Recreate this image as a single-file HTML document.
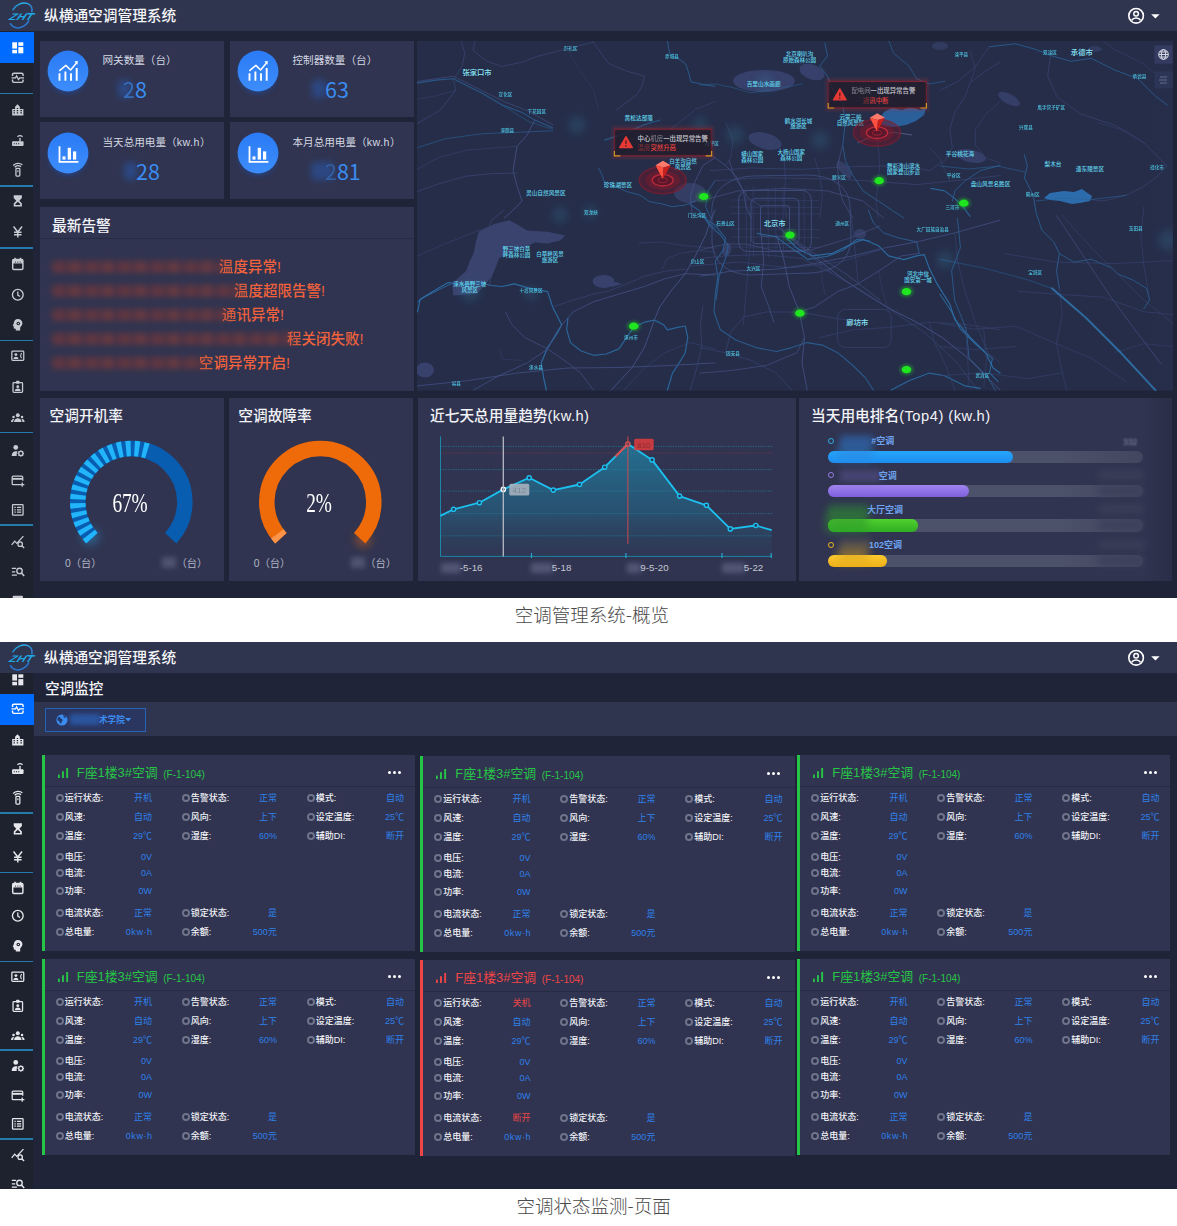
<!DOCTYPE html><html lang="zh-CN"><head><meta charset="utf-8"><title>空调管理系统</title><style>
*{margin:0;padding:0;box-sizing:border-box}
html,body{width:1177px;height:1226px;overflow:hidden;background:#fff}
body{position:relative;font-family:"Liberation Sans","Noto Sans CJK SC",sans-serif;color:#fff;font-size:10px;line-height:1}
.abs{position:absolute}
.dash{position:absolute;left:0;width:1177px;background:#1f2439;overflow:hidden}
.hdr{position:absolute;left:0;top:0;width:1177px;height:31px;background:#2f344f}
.hdr .ttl{position:absolute;left:44px;top:0;height:31px;line-height:32px;font-size:14.7px;color:#f4f5f8;font-weight:500;white-space:nowrap}
.side{position:absolute;left:0;top:31px;width:33.300px;bottom:0;background:#1e222e}
.side .act{position:absolute;left:0;width:34px;height:31px;background:#006cff}
.side .sep{position:absolute;left:0;width:32.500px;height:1.400px;background:#2579ab;margin-top:-.900px}
.side svg{position:absolute;left:10.600px;width:13.600px;height:13.600px;overflow:visible}
.card{position:absolute;background:#303450}
.cap{position:absolute;left:0;width:1177px;text-align:center;font-size:18.500px;font-weight:300;color:#4a4a4a;white-space:nowrap;font-family:"Noto Sans CJK SC","Liberation Sans",sans-serif}
.t{position:absolute;white-space:nowrap}
.blur{position:absolute;filter:blur(3px)}

.mc{position:absolute;background:#303450;height:196px}
.mc .bar{position:absolute;left:0;top:0;width:3px;height:100%}
.mc .sepl{position:absolute;left:3px;right:0;top:30.500px;height:1px;background:#262b43}
.mc .tt{position:absolute;left:35.300px;top:9px;font-size:12.900px;line-height:17px;white-space:nowrap}
.mc .tt i{font-style:normal;font-size:10px;margin-left:5.500px;position:relative;top:1px}
.mc .sig{position:absolute;left:16.200px;top:12.500px;width:11px;height:10px}
.mc .dots{position:absolute;left:346.500px;top:16.300px;width:14px;height:3px}
.mc .dots b{position:absolute;top:0;width:3px;height:3px;border-radius:50%;background:#fff}
.r{position:absolute;height:12px;line-height:12px;font-size:9px;white-space:nowrap}
.r .bu{display:block;position:absolute;left:-1.200px;top:2px;width:8px;height:8px;border-radius:50%;border:2px solid #6f748b;background:#2b2f49}
.r .lb{position:absolute;left:8px;top:0;color:#f2f3f7;font-weight:500}
.r .v{position:absolute;right:0;top:0;color:#2f80ea;text-align:right}
.r .v.red{color:#ee4546}
</style></head><body><div class="dash" style="top:0;height:598px"><div class="side"><div class="act" style="top:0.5px"></div><div class="sep" style="top:62.7px"></div><div class="sep" style="top:155.0px"></div><div class="sep" style="top:217.0px"></div><div class="sep" style="top:309.5px"></div><div class="sep" style="top:401.7px"></div><div class="sep" style="top:494.0px"></div><svg viewBox="0 0 16 16" style="top:9.5px;color:#ffffff"><rect x="1.5" y="1.5" width="5.6" height="7.4" fill="currentColor"/><rect x="8.6" y="1.5" width="5.9" height="4.2" fill="currentColor"/><rect x="1.5" y="10.4" width="5.6" height="4.1" fill="currentColor"/><rect x="8.6" y="7.2" width="5.9" height="7.3" fill="currentColor"/></svg><svg viewBox="0 0 16 16" style="top:39.9px;color:#c9cbd3"><path d="M1.800 6V4.200c0-1 .6-1.600 1.600-1.600h9.200c1 0 1.600.6 1.600 1.600V6M1.800 10v1.800c0 1 .6 1.600 1.600 1.600h9.200c1 0 1.600-.6 1.600-1.600V10" fill="none" stroke="currentColor" stroke-width="1.700"/><path d="M0.600 8.200h4.600l1.400-2.400 2.200 4.400 1.500-2h5.100" fill="none" stroke="currentColor" stroke-width="1.500"/></svg><svg viewBox="0 0 16 16" style="top:72.2px;color:#c9cbd3"><path d="M1.400 14.600V7h3.400V4.400L7.600 1.400l2.800 3v2.600h4.200v7.600z" fill="currentColor"/><path d="M3 9h1.600M3 11.600h1.600M6.800 6.400h1.600M6.800 9h1.600M6.800 11.600h1.600M11 9h1.800M11 11.600h1.800" stroke="#1e222e" stroke-width="1.300"/></svg><svg viewBox="0 0 16 16" style="top:102.7px;color:#c9cbd3"><rect x="1.200" y="8.600" width="13.600" height="5.600" rx="1.200" fill="currentColor"/><rect x="9.800" y="4.600" width="1.600" height="5" fill="currentColor"/><path d="M7.600 3.200c1.800-1.700 4.200-1.700 6 0" fill="none" stroke="currentColor" stroke-width="1.400"/><path d="M3.200 11.400h1.300M5.800 11.400h1.300M8.400 11.400h1.300" stroke="#1e222e" stroke-width="1.300"/></svg><svg viewBox="0 0 16 16" style="top:131.8px;color:#c9cbd3"><rect x="5.800" y="6.400" width="4.600" height="9" rx="1" fill="none" stroke="currentColor" stroke-width="1.500"/><path d="M8.100 8.600v2.400" stroke="currentColor" stroke-width="1.300"/><path d="M4.400 5a5.200 5.200 0 0 1 7.400-.6M2.600 3a8 8 0 0 1 10.800-.8" fill="none" stroke="currentColor" stroke-width="1.500"/></svg><svg viewBox="0 0 16 16" style="top:163.2px;color:#c9cbd3"><path d="M3.200 1.400h9.600v3.400L9.800 8l3 3.200v3.400H3.200v-3.400l3-3.200-3-3.200z" fill="currentColor"/><path d="M5.200 13v-1.200L8 9.200l2.800 2.600V13z" fill="#1e222e"/></svg><svg viewBox="0 0 16 16" style="top:193.8px;color:#c9cbd3"><path d="M3 1.8l5 6.4 5-6.4M8 8.2v6.4M3.6 8.6h8.8M3.6 11.4h8.8" fill="none" stroke="currentColor" stroke-width="1.7"/></svg><svg viewBox="0 0 16 16" style="top:226.2px;color:#c9cbd3"><rect x="2" y="3" width="12" height="11.600" rx="1.400" fill="none" stroke="currentColor" stroke-width="1.700"/><rect x="2" y="3" width="12" height="4.600" fill="currentColor"/><path d="M4.800 1v3M11.200 1v3" stroke="currentColor" stroke-width="1.700"/><path d="M4.600 6h1.200M7.400 6h1.200M10.200 6h1.200" stroke="#1e222e" stroke-width="1.100"/></svg><svg viewBox="0 0 16 16" style="top:257.2px;color:#c9cbd3"><circle cx="8" cy="8" r="6.3" fill="none" stroke="currentColor" stroke-width="1.6"/><path d="M8 4.2V8.3l2.7 1.7" fill="none" stroke="currentColor" stroke-width="1.5"/></svg><svg viewBox="0 0 16 16" style="top:287.0px;color:#c9cbd3"><path d="M8 1.2c3.2 0 5.4 2.2 5.4 5 0 1.6-.8 2.8-1.8 3.8-.6.6-.8 1.2-.8 2.2v2.6H5.6v-2.2H4.2c-.8 0-1-.4-1-1V9.800L2 9.200l1.200-2.600c.2-3.200 2-5.400 4.800-5.400z" fill="currentColor"/><circle cx="8.600" cy="6.400" r="2.100" fill="#1e222e"/><circle cx="8.600" cy="6.400" r="0.900" fill="currentColor"/></svg><svg viewBox="0 0 16 16" style="top:318.2px;color:#c9cbd3"><rect x="1" y="2.600" width="14" height="10.800" rx="1" fill="none" stroke="currentColor" stroke-width="1.500"/><circle cx="5.800" cy="6.600" r="1.700" fill="currentColor"/><path d="M2.800 11.800c.2-2 1.400-2.800 3-2.800s2.800.8 3 2.800z" fill="currentColor"/><path d="M12.600 4.800c-1.600 1.600-1.600 4.400 0 6" fill="none" stroke="currentColor" stroke-width="1.300"/></svg><svg viewBox="0 0 16 16" style="top:348.9px;color:#c9cbd3"><rect x="2.400" y="3" width="11.200" height="11.600" rx="1" fill="none" stroke="currentColor" stroke-width="1.500"/><rect x="6" y="1" width="4" height="3.400" rx=".8" fill="currentColor"/><circle cx="8" cy="7.800" r="1.700" fill="currentColor"/><path d="M4.600 12.800c.2-2 1.600-2.800 3.400-2.800s3.200.8 3.400 2.800z" fill="currentColor"/></svg><svg viewBox="0 0 16 16" style="top:379.8px;color:#c9cbd3"><circle cx="8" cy="5" r="2.300" fill="currentColor"/><path d="M3.600 12.800c.2-3 2-4.400 4.400-4.400s4.200 1.400 4.400 4.400z" fill="currentColor"/><circle cx="3" cy="7" r="1.500" fill="currentColor"/><circle cx="13" cy="7" r="1.500" fill="currentColor"/><path d="M0 12.800c.1-2.200 1.200-3.400 3-3.400.2 0 .5 0 .8.100-.8.900-1.200 2-1.300 3.300zM16 12.800c-.1-2.200-1.200-3.400-3-3.400-.2 0-.5 0-.8.100.8.900 1.200 2 1.300 3.300z" fill="currentColor"/></svg><svg viewBox="0 0 16 16" style="top:412.6px;color:#c9cbd3"><circle cx="5.600" cy="4" r="2.800" fill="currentColor"/><path d="M0.800 14c.2-3.600 2-5.400 4.800-5.400.8 0 1.600.2 2.200.5-.8 1-1.200 2.200-1.200 3.400 0 .5.100 1 .2 1.500z" fill="currentColor"/><circle cx="11.600" cy="11.200" r="2.500" fill="none" stroke="currentColor" stroke-width="1.500"/><path d="M11.600 7.400v1.400M11.600 13.600V15M7.800 11.200h1.400M14 11.200h1.400M8.900 8.500l1 1M13.300 12.900l1 1M14.300 8.500l-1 1M9.900 12.900l-1 1" stroke="currentColor" stroke-width="1.200"/></svg><svg viewBox="0 0 16 16" style="top:443.0px;color:#c9cbd3"><path d="M11 12.600H2.600c-.8 0-1.200-.4-1.200-1.200V3.800c0-.8.400-1.200 1.200-1.200h10c.8 0 1.200.4 1.200 1.200V8" fill="none" stroke="currentColor" stroke-width="1.500"/><rect x="1.400" y="4.600" width="12.400" height="2.200" fill="currentColor"/><path d="M13.200 10v5M10.700 12.500h5" stroke="currentColor" stroke-width="1.500"/></svg><svg viewBox="0 0 16 16" style="top:472.1px;color:#c9cbd3"><rect x="1.800" y="1.800" width="12.400" height="12.400" rx=".8" fill="none" stroke="currentColor" stroke-width="1.500"/><path d="M4 5.200h1.600M7 5.200h5M4 8h1.600M7 8h5M4 10.800h1.600M7 10.800h5" stroke="currentColor" stroke-width="1.400"/></svg><svg viewBox="0 0 16 16" style="top:503.7px;color:#c9cbd3"><path d="M0.800 11.600l3.600-4.400 2.400 2.600L14.600 1.400" fill="none" stroke="currentColor" stroke-width="1.500"/><circle cx="10.800" cy="10.800" r="2.600" fill="none" stroke="currentColor" stroke-width="1.500"/><path d="M12.700 12.700l2.700 2.700" stroke="currentColor" stroke-width="1.700"/></svg><svg viewBox="0 0 16 16" style="top:534.0px;color:#c9cbd3"><path d="M1 4h5M1 8h4M1 12h6" stroke="currentColor" stroke-width="1.500"/><circle cx="10" cy="7" r="3.200" fill="none" stroke="currentColor" stroke-width="1.600"/><path d="M12.300 9.300l3.200 3.600" stroke="currentColor" stroke-width="1.800"/></svg><svg viewBox="0 0 16 16" style="top:563.2px;color:#c9cbd3"><rect x="2" y="2" width="12" height="3" rx="1" fill="currentColor"/></svg></div><div class="card" style="left:40px;top:41px;width:184px;height:76px">
<svg class="abs" style="left:2.4000000000000057px;top:3.9000000000000057px;width:52px;height:56px;overflow:visible" viewBox="-26 -26 52 56">
<defs><linearGradient id="gc4041" x1="0" y1="0" x2="0" y2="1"><stop offset="0" stop-color="#2a7bf5"/><stop offset="1" stop-color="#3d8dfb"/></linearGradient>
<filter id="sh4041" x="-40%" y="-40%" width="180%" height="190%"><feGaussianBlur stdDeviation="2.600"/></filter></defs>
<ellipse cx="0" cy="4" rx="19" ry="19" fill="#1b4fae" opacity=".5" filter="url(#sh4041)"/>
<circle cx="0" cy="0" r="20.400" fill="url(#gc4041)"/><path d="M-8.500 9.800V2.300M-2.600 9.800V0.400M3 9.800V2.300M8.700 9.800V-2.900" stroke="#fff" stroke-width="1.900" fill="none"/><path d="M-8.700 -0.200L-2.100 -5.600L2.600 -1L8.700 -8.200" stroke="#fff" stroke-width="1.500" fill="none" stroke-linejoin="round"/><path d="M6.300 -9.400l3.600 -.6l-.5 3.700z" fill="#fff"/></svg>
<div class="t" style="left:62.500px;top:14.1px;font-size:10.600px;color:#d5d8e2">网关数量（台）</div>
<div class="blur" style="left:78px;top:39px;width:13px;height:18px;background:#2b4f96;opacity:.75;border-radius:4px;filter:blur(3.500px)"></div>
<div class="t" style="left:83px;top:35px;font-size:21.500px;font-weight:400;color:#3a8cf0;font-family:'Noto Sans CJK SC','Liberation Sans',sans-serif;line-height:26px"><span style="opacity:0.62;filter:blur(.700px)">2</span>8</div>
</div><div class="card" style="left:230px;top:41px;width:184px;height:76px">
<svg class="abs" style="left:2.3999999999999773px;top:3.9000000000000057px;width:52px;height:56px;overflow:visible" viewBox="-26 -26 52 56">
<defs><linearGradient id="gc23041" x1="0" y1="0" x2="0" y2="1"><stop offset="0" stop-color="#2a7bf5"/><stop offset="1" stop-color="#3d8dfb"/></linearGradient>
<filter id="sh23041" x="-40%" y="-40%" width="180%" height="190%"><feGaussianBlur stdDeviation="2.600"/></filter></defs>
<ellipse cx="0" cy="4" rx="19" ry="19" fill="#1b4fae" opacity=".5" filter="url(#sh23041)"/>
<circle cx="0" cy="0" r="20.400" fill="url(#gc23041)"/><path d="M-8.500 9.800V2.300M-2.600 9.800V0.400M3 9.800V2.300M8.700 9.800V-2.900" stroke="#fff" stroke-width="1.900" fill="none"/><path d="M-8.700 -0.200L-2.100 -5.600L2.600 -1L8.700 -8.200" stroke="#fff" stroke-width="1.500" fill="none" stroke-linejoin="round"/><path d="M6.300 -9.400l3.600 -.6l-.5 3.700z" fill="#fff"/></svg>
<div class="t" style="left:62.500px;top:14.1px;font-size:10.600px;color:#d5d8e2">控制器数量（台）</div>
<div class="blur" style="left:82px;top:39px;width:14px;height:18px;background:#2b4f96;opacity:.75;border-radius:4px;filter:blur(3.500px)"></div>
<div class="t" style="left:95px;top:35px;font-size:21.500px;font-weight:400;color:#3a8cf0;font-family:'Noto Sans CJK SC','Liberation Sans',sans-serif;line-height:26px">63</div>
</div><div class="card" style="left:40px;top:122.3px;width:184px;height:76.7px">
<svg class="abs" style="left:2.4000000000000057px;top:4.299999999999997px;width:52px;height:56px;overflow:visible" viewBox="-26 -26 52 56">
<defs><linearGradient id="gc40122" x1="0" y1="0" x2="0" y2="1"><stop offset="0" stop-color="#2a7bf5"/><stop offset="1" stop-color="#3d8dfb"/></linearGradient>
<filter id="sh40122" x="-40%" y="-40%" width="180%" height="190%"><feGaussianBlur stdDeviation="2.600"/></filter></defs>
<ellipse cx="0" cy="4" rx="19" ry="19" fill="#1b4fae" opacity=".5" filter="url(#sh40122)"/>
<circle cx="0" cy="0" r="20.400" fill="url(#gc40122)"/><path d="M-8.500 -6.800V8.900H10.400" stroke="#fff" stroke-width="1.800" fill="none"/><rect x="-5.500" y="3.400" width="3" height="3.200" fill="#fff"/><rect x="-0.300" y="-5.200" width="3.300" height="11.800" fill="#fff"/><rect x="5" y="-1.600" width="3.200" height="8.200" fill="#fff"/></svg>
<div class="t" style="left:62.500px;top:14.9px;font-size:10.600px;color:#d5d8e2">当天总用电量（<span style="letter-spacing:.550px">kw.h</span>）</div>
<div class="blur" style="left:84px;top:39.4px;width:13px;height:18px;background:#2b4f96;opacity:.75;border-radius:4px;filter:blur(3.500px)"></div>
<div class="t" style="left:96px;top:35.4px;font-size:21.500px;font-weight:400;color:#3a8cf0;font-family:'Noto Sans CJK SC','Liberation Sans',sans-serif;line-height:26px">28</div>
</div><div class="card" style="left:230px;top:122.3px;width:184px;height:76.7px">
<svg class="abs" style="left:2.3999999999999773px;top:4.299999999999997px;width:52px;height:56px;overflow:visible" viewBox="-26 -26 52 56">
<defs><linearGradient id="gc230122" x1="0" y1="0" x2="0" y2="1"><stop offset="0" stop-color="#2a7bf5"/><stop offset="1" stop-color="#3d8dfb"/></linearGradient>
<filter id="sh230122" x="-40%" y="-40%" width="180%" height="190%"><feGaussianBlur stdDeviation="2.600"/></filter></defs>
<ellipse cx="0" cy="4" rx="19" ry="19" fill="#1b4fae" opacity=".5" filter="url(#sh230122)"/>
<circle cx="0" cy="0" r="20.400" fill="url(#gc230122)"/><path d="M-8.500 -6.800V8.900H10.400" stroke="#fff" stroke-width="1.800" fill="none"/><rect x="-5.500" y="3.400" width="3" height="3.200" fill="#fff"/><rect x="-0.300" y="-5.200" width="3.300" height="11.800" fill="#fff"/><rect x="5" y="-1.600" width="3.200" height="8.200" fill="#fff"/></svg>
<div class="t" style="left:62.500px;top:14.9px;font-size:10.600px;color:#d5d8e2">本月总用电量（<span style="letter-spacing:.550px">kw.h</span>）</div>
<div class="blur" style="left:81px;top:39.4px;width:22px;height:18px;background:#2b4f96;opacity:.75;border-radius:4px;filter:blur(3.500px)"></div>
<div class="t" style="left:95px;top:35.4px;font-size:21.500px;font-weight:400;color:#3a8cf0;font-family:'Noto Sans CJK SC','Liberation Sans',sans-serif;line-height:26px"><span style="opacity:0.42;filter:blur(.700px)">2</span>81</div>
</div><div class="card" style="left:40px;top:207px;width:374px;height:183.500px"><div class="abs" style="left:0;top:31px;width:374px;height:1px;background:#262b44"></div><div class="t" style="left:12px;top:10.500px;font-size:14.700px;color:#f2f3f7;font-weight:500;line-height:17px">最新告警</div><div class="abs" style="left:12px;top:53.5px;width:173px;height:12px;background:repeating-linear-gradient(90deg,#74383c 0 13px,#55323f 13px 17px,#7a3c3c 17px 29px,#4a2f44 29px 33px);opacity:.72;filter:blur(3px);border-radius:3px"></div><div class="t" style="left:179px;top:50.5px;font-size:14.500px;line-height:19px;color:#f1623c;font-weight:500"><span style="filter:blur(.600px);opacity:.85">温</span>度异常!</div><div class="abs" style="left:12px;top:77.5px;width:188px;height:12px;background:repeating-linear-gradient(90deg,#74383c 0 13px,#55323f 13px 17px,#7a3c3c 17px 29px,#4a2f44 29px 33px);opacity:.72;filter:blur(3px);border-radius:3px"></div><div class="t" style="left:194px;top:74.5px;font-size:14.500px;line-height:19px;color:#f1623c;font-weight:500"><span style="filter:blur(.600px);opacity:.85">温</span>度超限告警!</div><div class="abs" style="left:12px;top:101.9px;width:176px;height:12px;background:repeating-linear-gradient(90deg,#74383c 0 13px,#55323f 13px 17px,#7a3c3c 17px 29px,#4a2f44 29px 33px);opacity:.72;filter:blur(3px);border-radius:3px"></div><div class="t" style="left:182px;top:98.9px;font-size:14.500px;line-height:19px;color:#f1623c;font-weight:500"><span style="filter:blur(.600px);opacity:.85">通</span>讯异常!</div><div class="abs" style="left:12px;top:126.0px;width:241px;height:12px;background:repeating-linear-gradient(90deg,#74383c 0 13px,#55323f 13px 17px,#7a3c3c 17px 29px,#4a2f44 29px 33px);opacity:.72;filter:blur(3px);border-radius:3px"></div><div class="t" style="left:247px;top:123.0px;font-size:14.500px;line-height:19px;color:#f1623c;font-weight:500"><span style="filter:blur(.600px);opacity:.85">程</span>关闭失败!</div><div class="abs" style="left:12px;top:149.5px;width:153px;height:12px;background:repeating-linear-gradient(90deg,#74383c 0 13px,#55323f 13px 17px,#7a3c3c 17px 29px,#4a2f44 29px 33px);opacity:.72;filter:blur(3px);border-radius:3px"></div><div class="t" style="left:159px;top:146.5px;font-size:14.500px;line-height:19px;color:#f1623c;font-weight:500"><span style="filter:blur(.600px);opacity:.85">空</span>调异常开启!</div></div><svg class="abs" style="left:417px;top:41px;width:756px;height:349.500px" viewBox="417 41 756 349.500"><defs><filter id="mg" x="-100%" y="-100%" width="300%" height="300%"><feGaussianBlur stdDeviation="4"/></filter><filter id="dg" x="-100%" y="-100%" width="300%" height="300%"><feGaussianBlur stdDeviation="1.800"/></filter><filter id="pg" x="-20%" y="-40%" width="140%" height="180%"><feGaussianBlur stdDeviation="1.600"/></filter><filter id="tb" x="-20%" y="-40%" width="140%" height="180%"><feGaussianBlur stdDeviation=".7"/></filter><linearGradient id="mbg" x1="0" y1="0" x2="1" y2="0"><stop offset="0" stop-color="#252d49"/><stop offset=".97" stop-color="#252d49"/><stop offset="1" stop-color="#272e4b"/></linearGradient></defs><rect x="417" y="41" width="756" height="349.500" fill="url(#mbg)"/><path d="M478.7 231.7L494.0 224.0L509.3 220.2L519.5 225.8L527.2 230.4L547.6 231.7L565.4 235.5L560.3 240.6L547.6 243.6L534.8 242.6L524.6 248.2L511.9 250.8L499.1 258.4L495.3 268.6L491.5 276.8L483.8 286.5L476.2 294.1L453.2 295.4L452.0 283.9L459.6 276.8L466.0 271.2L469.8 261.0L473.6 253.3L476.2 240.6Z" fill="#3a4470" opacity="0.95"/><ellipse cx="603.600" cy="281.400" rx="11" ry="6.500" fill="#3a4470" opacity=".9"/><path d="M608 285l8 -3l6 2l-10 3z" fill="#3a4470" opacity=".9"/><ellipse cx="425" cy="370" rx="9" ry="7.500" fill="#3a4470" opacity=".9"/><ellipse cx="764" cy="81" rx="31" ry="11" fill="#3a4470" opacity=".85"/><ellipse cx="812" cy="72" rx="13" ry="7.500" fill="#3a4470" opacity=".85" transform="rotate(20 812 72)"/><ellipse cx="765" cy="141" rx="17" ry="8" fill="#3a4470" opacity=".8" transform="rotate(15 765 141)"/><ellipse cx="971" cy="156" rx="15" ry="6.500" fill="#3a4470" opacity=".8" transform="rotate(12 971 156)"/><ellipse cx="1009" cy="99" rx="12" ry="5" fill="#3a4470" opacity=".75" transform="rotate(28 1009 99)"/><ellipse cx="690" cy="193" rx="16" ry="10" fill="#3a4470" opacity=".7"/><ellipse cx="940" cy="46" rx="8" ry="4" fill="#3a4470" opacity=".6"/><ellipse cx="1095" cy="49" rx="7" ry="3" fill="#3a4470" opacity=".6"/><ellipse cx="727" cy="250" rx="4" ry="7" fill="#3a4470" opacity=".8" transform="rotate(15 727 250)"/><ellipse cx="860" cy="234" rx="6" ry="5" fill="#3a4470" opacity=".7"/><path d="M884 112l8 -4l10 2l8 -3l10 3l6 -2l-2 7l-8 6l-10 4l-12 2l-10 -1l-6 -5z" fill="#2c69a8" opacity=".85"/><path d="M1044 198l6 -5l14 -2l10 1l8 -3l4 3l6 4l-2 5l-10 2l-8 1l-12 -3l-10 -1z" fill="#2d70b2" opacity=".95"/><path d="M838 160l8 4l6 10l-2 6l-8 -6l-6 -8z" fill="#3a4470" opacity=".7"/><path d="M415.0 83.4L435.4 80.1L453.2 78.8L468.5 86.4L481.3 92.8L501.7 104.8L522.1 112.4L534.8 120.1L552.6 127.7" fill="none" stroke="#2b6296" stroke-width="1.1" opacity="0.8" stroke-linejoin="round" stroke-linecap="round" /><path d="M415.0 81.8L453.2 76.2L481.3 90.3L504.2 101.7L527.2 110.6L552.6 124.7" fill="none" stroke="#455286" stroke-width="0.8" opacity="0.8" stroke-linejoin="round" stroke-linecap="round" /><path d="M417.5 147.6L445.6 138.7L481.3 133.8L517.0 132.3L552.6 130.8" fill="none" stroke="#2b6296" stroke-width="0.9" opacity="0.7" stroke-linejoin="round" stroke-linecap="round" /><path d="M460.9 40.0L464.7 53.3L462.2 66.0L453.2 80.1" fill="none" stroke="#3a4674" stroke-width="0.8" opacity="0.9" stroke-linejoin="round" stroke-linecap="round" /><path d="M474.9 40.0L473.1 50.7L486.4 60.9L501.7 66.5L522.1 62.2L537.4 56.4L567.9 48.7L593.4 42.1" fill="none" stroke="#3a4674" stroke-width="0.8" opacity="0.9" stroke-linejoin="round" stroke-linecap="round" /><path d="M415.0 124.7L440.5 109.9L455.8 90.3L453.7 80.8" fill="none" stroke="#3a4674" stroke-width="0.8" opacity="0.9" stroke-linejoin="round" stroke-linecap="round" /><path d="M534.8 120.1L527.2 134.9L517.0 146.3L513.1 170.6L517.0 185.8L522.1 201.1L511.9 211.3L504.2 218.0" fill="none" stroke="#455286" stroke-width="0.9" opacity="0.9" stroke-linejoin="round" stroke-linecap="round" /><path d="M415.0 192.2L440.5 183.3L466.0 176.2L491.5 173.6L517.0 173.1" fill="none" stroke="#3a4674" stroke-width="0.8" opacity="0.9" stroke-linejoin="round" stroke-linecap="round" /><path d="M415.0 170.6L437.9 157.8L466.0 150.2L499.1 147.6L517.0 146.3" fill="none" stroke="#3a4674" stroke-width="0.7" opacity="0.8" stroke-linejoin="round" stroke-linecap="round" /><path d="M593.4 42.1L601.1 53.3L608.7 63.5L626.6 71.1L644.4 76.2L641.9 86.4L636.8 94.6L624.0 104.3L616.4 109.9" fill="none" stroke="#3a4674" stroke-width="0.8" opacity="0.9" stroke-linejoin="round" stroke-linecap="round" /><path d="M667.4 40.0L668.6 48.2L669.9 53.8L680.1 59.7L685.7 64.0L689.0 73.7L690.8 81.8L703.0 84.4L715.0 86.4" fill="none" stroke="#2b6296" stroke-width="1" opacity="0.85" stroke-linejoin="round" stroke-linecap="round" /><path d="M598.5 168.0L602.4 175.6L604.1 181.3L616.4 187.1L626.6 191.5L639.3 194.8L649.5 201.7L661.0 203.7L672.5 206.7L685.2 205.0L695.4 201.1" fill="none" stroke="#2b6296" stroke-width="1" opacity="0.8" stroke-linejoin="round" stroke-linecap="round" /><path d="M604.9 140.0L624.0 133.6L644.4 124.7L659.7 120.1" fill="none" stroke="#2c70a8" stroke-width="1.4" opacity="0.55" stroke-linejoin="round" stroke-linecap="round" /><path d="M501.7 104.8L517.0 114.5L529.7 122.1L547.6 127.7L552.6 128.7" fill="none" stroke="#2b6296" stroke-width="0.9" opacity="0.6" stroke-linejoin="round" stroke-linecap="round" /><path d="M715.0 101.7L695.4 109.4L680.1 122.1L669.9 129.8" fill="none" stroke="#3a4674" stroke-width="0.8" opacity="0.8" stroke-linejoin="round" stroke-linecap="round" /><path d="M715.0 157.8L703.0 165.5L695.4 180.7L690.3 196.0L692.8 218.0" fill="none" stroke="#455286" stroke-width="0.9" opacity="0.8" stroke-linejoin="round" stroke-linecap="round" /><path d="M715.0 180.7L708.1 190.9L705.6 206.2L710.7 218.0" fill="none" stroke="#2b6296" stroke-width="1" opacity="0.8" stroke-linejoin="round" stroke-linecap="round" /><path d="M567.9 48.7L578.1 68.6L593.4 89.0L598.5 109.4" fill="none" stroke="#3a4674" stroke-width="0.6" opacity="0.6" stroke-linejoin="round" stroke-linecap="round" /><path d="M417.5 99.2L437.9 95.4L455.8 90.3" fill="none" stroke="#3a4674" stroke-width="0.7" opacity="0.7" stroke-linejoin="round" stroke-linecap="round" /><path d="M417.5 312.0L420.1 299.2L432.8 291.6L448.1 282.6L466.0 284.4L478.7 282.6L491.5 285.5L501.7 286.5L514.4 283.9L527.2 287.7L547.6 291.6L552.6 306.9L557.7 317.1L561.6 324.7L557.7 332.4L547.6 347.6L541.2 362.9L543.7 378.2L546.3 390.0" fill="none" stroke="#2c70a8" stroke-width="1.2" opacity="0.9" stroke-linejoin="round" stroke-linecap="round" /><path d="M417.5 301.8L425.2 296.7L440.5 289.0L450.7 283.9" fill="none" stroke="#2c70a8" stroke-width="1" opacity="0.8" stroke-linejoin="round" stroke-linecap="round" /><path d="M567.9 318.3L566.7 329.8L570.5 342.6L580.7 350.7L593.4 355.3L606.2 354.0L618.9 348.9L626.6 337.5L633.7 327.3L644.4 322.2L654.6 320.1L663.5 324.7L667.4 329.8L677.6 327.3L685.2 326.0L687.8 337.5L685.2 352.7L677.6 365.5L672.5 373.1L667.4 390.0" fill="none" stroke="#2c70a8" stroke-width="1.2" opacity="0.85" stroke-linejoin="round" stroke-linecap="round" /><path d="M504.2 210.0L491.5 220.2L486.4 235.5L488.9 255.9L491.5 276.3L488.9 286.5" fill="none" stroke="#3a4674" stroke-width="0.8" opacity="0.9" stroke-linejoin="round" stroke-linecap="round" /><path d="M417.5 255.9L440.5 245.7L466.0 235.5L486.4 227.8" fill="none" stroke="#3a4674" stroke-width="0.7" opacity="0.8" stroke-linejoin="round" stroke-linecap="round" /><path d="M505.5 312.0L511.9 324.7L524.6 337.5L547.6 348.9L567.9 362.9L580.7 373.1L593.4 390.0" fill="none" stroke="#455286" stroke-width="0.8" opacity="0.85" stroke-linejoin="round" stroke-linecap="round" /><path d="M417.5 385.9L466.0 380.8L517.0 373.1L567.9 368.0L618.9 367.5L669.9 365.5L715.0 362.9" fill="none" stroke="#455286" stroke-width="0.9" opacity="0.85" stroke-linejoin="round" stroke-linecap="round" /><path d="M473.6 390.0L499.1 375.7L527.2 362.9L547.6 348.9L557.7 329.8L573.0 312.0L593.4 301.8L618.9 294.1L644.4 286.5L664.8 278.8L685.2 273.7L715.0 275.0" fill="none" stroke="#455286" stroke-width="0.9" opacity="0.85" stroke-linejoin="round" stroke-linecap="round" /><path d="M611.3 390.0L631.7 368.0L644.4 347.6L654.6 319.6L659.7 306.9L672.5 289.0L685.2 273.7L695.4 255.9L705.6 235.5L710.7 220.2L715.0 210.0" fill="none" stroke="#455286" stroke-width="1" opacity="0.9" stroke-linejoin="round" stroke-linecap="round" /><path d="M552.6 306.9L567.9 301.8L593.4 294.1L608.7 291.1L626.6 283.9L644.4 276.3L664.8 271.2L685.2 269.1" fill="none" stroke="#3a4674" stroke-width="0.8" opacity="0.85" stroke-linejoin="round" stroke-linecap="round" /><path d="M639.3 243.1L659.7 241.9L685.2 245.7L715.0 248.2" fill="none" stroke="#3a4674" stroke-width="0.7" opacity="0.8" stroke-linejoin="round" stroke-linecap="round" /><path d="M662.3 268.6L667.4 258.4L680.1 253.3L697.9 250.8L715.0 252.1" fill="none" stroke="#3a4674" stroke-width="0.7" opacity="0.8" stroke-linejoin="round" stroke-linecap="round" /><path d="M624.0 390.0L644.4 368.0L664.8 352.7L690.3 342.6L715.0 348.9" fill="none" stroke="#3a4674" stroke-width="0.7" opacity="0.8" stroke-linejoin="round" stroke-linecap="round" /><path d="M703.0 305.6L700.5 324.7L701.8 347.6L695.4 373.1L690.3 390.0" fill="none" stroke="#3a4674" stroke-width="0.8" opacity="0.85" stroke-linejoin="round" stroke-linecap="round" /><path d="M499.1 348.9L502.9 359.1L522.1 360.4" fill="none" stroke="#3a4674" stroke-width="0.6" opacity="0.7" stroke-linejoin="round" stroke-linecap="round" /><path d="M705.6 215.1L708.1 222.7L715.0 227.8" fill="none" stroke="#2b6296" stroke-width="1" opacity="0.8" stroke-linejoin="round" stroke-linecap="round" /><path d="M824.9 43.1L827.5 55.8L819.8 66.0L827.5 76.2L832.6 89.0L842.7 104.3L845.3 122.1L842.7 145.1L845.3 160.4L852.9 175.6L863.1 190.9L878.4 201.1L893.7 211.3L903.9 218.0" fill="none" stroke="#2b6296" stroke-width="1" opacity="0.8" stroke-linejoin="round" stroke-linecap="round" /><path d="M888.6 40.5L893.7 53.3L909.0 66.0L916.7 78.8L929.4 83.9L944.7 81.3" fill="none" stroke="#2b6296" stroke-width="0.9" opacity="0.75" stroke-linejoin="round" stroke-linecap="round" /><path d="M700.0 85.2L715.3 83.9L733.1 87.7L751.0 92.8L776.5 89.0L802.0 83.9" fill="none" stroke="#2b6296" stroke-width="0.9" opacity="0.6" stroke-linejoin="round" stroke-linecap="round" /><path d="M1000.0 62.2L985.5 71.1L970.2 82.6L965.1 96.6L954.9 111.9L949.8 129.8L952.4 147.6L944.7 160.4L929.4 170.6" fill="none" stroke="#3a4674" stroke-width="0.8" opacity="0.85" stroke-linejoin="round" stroke-linecap="round" /><path d="M970.2 50.7L975.3 68.6L970.2 82.6" fill="none" stroke="#3a4674" stroke-width="0.7" opacity="0.8" stroke-linejoin="round" stroke-linecap="round" /><path d="M930.7 188.4L944.7 190.9L954.9 198.6L962.6 206.2L970.2 216.4" fill="none" stroke="#2c70a8" stroke-width="1.1" opacity="0.8" stroke-linejoin="round" stroke-linecap="round" /><path d="M1000.0 165.5L980.4 170.6L965.1 180.7L954.9 190.9L952.4 201.1" fill="none" stroke="#2b6296" stroke-width="1" opacity="0.8" stroke-linejoin="round" stroke-linecap="round" /><path d="M875.9 134.9L878.4 147.6L879.7 165.5L878.4 180.7L875.9 201.1L878.4 218.0" fill="none" stroke="#3a4674" stroke-width="0.7" opacity="0.8" stroke-linejoin="round" stroke-linecap="round" /><path d="M858.0 142.5L873.3 136.1L893.7 132.3L911.6 134.9" fill="none" stroke="#8fa0c8" stroke-width="0.8" opacity="0.5" stroke-linejoin="round" stroke-linecap="round" /><path d="M700.0 147.6L715.3 157.8L725.5 165.5L735.7 175.6L743.3 190.9L745.9 206.2L751.0 218.0" fill="none" stroke="#455286" stroke-width="0.9" opacity="0.85" stroke-linejoin="round" stroke-linecap="round" /><path d="M710.2 170.6L751.0 168.0L802.0 169.3L852.9 166.7L903.9 165.5L929.4 170.6" fill="none" stroke="#3a4674" stroke-width="0.8" opacity="0.85" stroke-linejoin="round" stroke-linecap="round" /><path d="M715.3 180.7L763.7 177.7L814.7 178.7L865.7 180.7L916.7 184.6L954.9 180.7L1000.0 175.6" fill="none" stroke="#3a4674" stroke-width="0.8" opacity="0.85" stroke-linejoin="round" stroke-linecap="round" /><path d="M700.0 201.1L738.2 190.9L784.1 188.4L827.5 190.9L863.1 201.1L883.5 218.0" fill="none" stroke="#455286" stroke-width="0.8" opacity="0.85" stroke-linejoin="round" stroke-linecap="round" /><path d="M784.1 160.4L785.4 180.7L784.1 201.1L786.7 218.0" fill="none" stroke="#3a4674" stroke-width="0.7" opacity="0.8" stroke-linejoin="round" stroke-linecap="round" /><path d="M814.7 157.8L819.8 175.6L822.4 196.0L819.8 218.0" fill="none" stroke="#3a4674" stroke-width="0.7" opacity="0.8" stroke-linejoin="round" stroke-linecap="round" /><path d="M842.7 145.1L837.6 165.5L838.9 185.8L842.7 201.1L852.9 218.0" fill="none" stroke="#455286" stroke-width="0.8" opacity="0.85" stroke-linejoin="round" stroke-linecap="round" /><path d="M725.5 122.1L733.1 140.0L730.6 157.8L725.5 165.5" fill="none" stroke="#3a4674" stroke-width="0.7" opacity="0.8" stroke-linejoin="round" stroke-linecap="round" /><path d="M1000.0 101.7L985.5 114.5L975.3 129.8L975.3 145.1L985.5 157.8L1000.0 162.9" fill="none" stroke="#3a4674" stroke-width="0.7" opacity="0.8" stroke-linejoin="round" stroke-linecap="round" /><path d="M929.4 147.6L939.6 157.8L944.7 170.6L949.8 180.7" fill="none" stroke="#3a4674" stroke-width="0.7" opacity="0.8" stroke-linejoin="round" stroke-linecap="round" /><rect x="760.5" y="205.7" width="29.0" height="30.6" rx="2.5" fill="none" stroke="#455286" stroke-width="0.9" opacity="0.95"/><rect x="751" y="198.3" width="48" height="45.4" rx="5" fill="none" stroke="#455286" stroke-width="0.9" opacity="0.95"/><rect x="738.7" y="190.5" width="72.6" height="61.0" rx="9" fill="none" stroke="#455286" stroke-width="0.9" opacity="0.9"/><path d="M712 214c-2 -20 12 -36 40 -38l56 -1c26 1 40 12 42 30l1 34c-1 20 -14 32 -40 34l-62 2c-24 -2 -36 -14 -37 -33z" fill="none" stroke="#455286" stroke-width=".9" opacity=".85"/><path d="M746.0 187.0L746.5 257.0" fill="none" stroke="#3a4674" stroke-width="0.6" opacity="0.8" stroke-linejoin="round" stroke-linecap="round" /><path d="M753.0 187.0L753.5 257.0" fill="none" stroke="#3a4674" stroke-width="0.6" opacity="0.8" stroke-linejoin="round" stroke-linecap="round" /><path d="M768.0 187.0L768.5 257.0" fill="none" stroke="#3a4674" stroke-width="0.6" opacity="0.8" stroke-linejoin="round" stroke-linecap="round" /><path d="M775.5 187.0L776.0 257.0" fill="none" stroke="#3a4674" stroke-width="0.6" opacity="0.8" stroke-linejoin="round" stroke-linecap="round" /><path d="M783.0 187.0L783.5 257.0" fill="none" stroke="#3a4674" stroke-width="0.6" opacity="0.8" stroke-linejoin="round" stroke-linecap="round" /><path d="M804.0 187.0L804.5 257.0" fill="none" stroke="#3a4674" stroke-width="0.6" opacity="0.8" stroke-linejoin="round" stroke-linecap="round" /><path d="M731.0 200.0L819.0 200.5" fill="none" stroke="#3a4674" stroke-width="0.6" opacity="0.8" stroke-linejoin="round" stroke-linecap="round" /><path d="M731.0 207.0L819.0 207.5" fill="none" stroke="#3a4674" stroke-width="0.6" opacity="0.8" stroke-linejoin="round" stroke-linecap="round" /><path d="M731.0 213.5L819.0 214.0" fill="none" stroke="#3a4674" stroke-width="0.6" opacity="0.8" stroke-linejoin="round" stroke-linecap="round" /><path d="M731.0 229.0L819.0 229.5" fill="none" stroke="#3a4674" stroke-width="0.6" opacity="0.8" stroke-linejoin="round" stroke-linecap="round" /><path d="M731.0 237.0L819.0 237.5" fill="none" stroke="#3a4674" stroke-width="0.6" opacity="0.8" stroke-linejoin="round" stroke-linecap="round" /><path d="M731.0 247.0L819.0 247.5" fill="none" stroke="#3a4674" stroke-width="0.6" opacity="0.8" stroke-linejoin="round" stroke-linecap="round" /><path d="M757.3 233.4L775.6 236.5L787.9 245.6L797.0 251.8L807.8 259.4L827.6 256.3L842.9 250.2L856.7 239.5L870.0 241.0" fill="none" stroke="#2c70a8" stroke-width="1.1" opacity="0.8" stroke-linejoin="round" stroke-linecap="round" /><path d="M690.0 204.3L699.2 210.5L709.9 225.8L720.6 235.0L728.2 245.6L726.7 254.8L719.0 276.2L716.0 300.0" fill="none" stroke="#2b6296" stroke-width="1.2" opacity="0.8" stroke-linejoin="round" stroke-linecap="round" /><path d="M729.0 160.0L734.0 176.0L748.0 198.0L761.0 206.0" fill="none" stroke="#455286" stroke-width="0.8" opacity="0.8" stroke-linejoin="round" stroke-linecap="round" /><path d="M790.0 236.0L812.0 252.0L846.0 274.0L880.0 300.0" fill="none" stroke="#455286" stroke-width="0.8" opacity="0.8" stroke-linejoin="round" stroke-linecap="round" /><path d="M700.0 250.0L726.0 244.0L746.0 244.0L775.0 251.0L811.0 250.0L850.0 238.0L880.0 226.0" fill="none" stroke="#455286" stroke-width="0.8" opacity="0.8" stroke-linejoin="round" stroke-linecap="round" /><path d="M690.0 266.0L740.0 262.0L790.0 268.0L840.0 262.0L880.0 250.0" fill="none" stroke="#3a4674" stroke-width="0.8" opacity="0.8" stroke-linejoin="round" stroke-linecap="round" /><path d="M700.0 215.1L715.3 225.3L725.5 238.0L722.9 250.8L715.3 261.0L717.8 276.3L715.3 294.1L714.0 312.0L720.4 329.8L735.7 340.0L756.1 347.6L776.5 351.5L791.8 347.6L807.1 342.6L822.4 345.1L837.6 352.7L852.9 365.5L865.7 378.2L873.3 390.0" fill="none" stroke="#2b6296" stroke-width="1.1" opacity="0.85" stroke-linejoin="round" stroke-linecap="round" /><path d="M786.7 238.0L796.9 248.2L812.2 255.9L832.6 253.3L847.8 245.7L863.1 239.3L878.4 245.7L888.6 255.9L903.9 259.7L916.7 255.9L924.3 254.6L929.4 268.6L937.1 283.9L949.8 304.3L954.9 319.6L970.2 337.5L985.5 352.7L993.1 368.0L1000.0 373.1" fill="none" stroke="#2c70a8" stroke-width="1.2" opacity="0.9" stroke-linejoin="round" stroke-linecap="round" /><path d="M868.2 210.0L873.3 222.7L883.5 232.9L898.8 238.0L916.7 241.9L919.2 253.3" fill="none" stroke="#2b6296" stroke-width="1" opacity="0.85" stroke-linejoin="round" stroke-linecap="round" /><path d="M776.5 225.3L796.9 243.1L819.8 261.0L842.7 278.8L865.7 294.1L891.2 309.4L916.7 322.2L942.2 337.5L967.7 357.8L993.1 383.3L1000.0 390.0" fill="none" stroke="#455286" stroke-width="1" opacity="0.9" stroke-linejoin="round" stroke-linecap="round" /><path d="M781.6 230.4L807.1 253.3L832.6 273.7L863.1 291.6L893.7 312.0L924.3 332.4L954.9 360.4L977.8 390.0" fill="none" stroke="#3a4674" stroke-width="0.8" opacity="0.85" stroke-linejoin="round" stroke-linecap="round" /><path d="M761.2 235.5L763.7 261.0L761.2 286.5L768.8 306.9L773.9 322.2" fill="none" stroke="#455286" stroke-width="0.9" opacity="0.85" stroke-linejoin="round" stroke-linecap="round" /><path d="M751.0 235.5L748.4 266.1L745.9 294.1L743.3 324.7" fill="none" stroke="#3a4674" stroke-width="0.7" opacity="0.8" stroke-linejoin="round" stroke-linecap="round" /><path d="M776.5 235.5L784.1 261.0L789.2 286.5L799.4 312.0L804.5 337.5L802.0 362.9L807.1 390.0" fill="none" stroke="#455286" stroke-width="0.9" opacity="0.9" stroke-linejoin="round" stroke-linecap="round" /><path d="M700.0 258.4L725.5 255.9L761.2 254.6L802.0 258.4L832.6 273.7" fill="none" stroke="#3a4674" stroke-width="0.8" opacity="0.85" stroke-linejoin="round" stroke-linecap="round" /><path d="M700.0 276.3L730.6 271.2L776.5 269.1L814.7 263.5L852.9 255.9L883.5 248.2L916.7 241.9L954.9 232.9L1000.0 220.2" fill="none" stroke="#455286" stroke-width="0.9" opacity="0.85" stroke-linejoin="round" stroke-linecap="round" /><path d="M725.5 352.7L730.6 332.4L743.3 317.1L766.3 312.0L799.4 312.0L835.1 318.3L863.1 322.2" fill="none" stroke="#3a4674" stroke-width="0.8" opacity="0.85" stroke-linejoin="round" stroke-linecap="round" /><path d="M799.4 312.0L814.7 306.9L837.6 291.6L858.0 283.9L878.4 271.2L901.4 255.9L919.2 253.3" fill="none" stroke="#455286" stroke-width="0.9" opacity="0.85" stroke-linejoin="round" stroke-linecap="round" /><path d="M700.0 373.1L730.6 370.6L766.3 365.5L796.9 352.7L804.5 337.5" fill="none" stroke="#455286" stroke-width="0.8" opacity="0.85" stroke-linejoin="round" stroke-linecap="round" /><path d="M700.0 347.6L725.5 352.7L751.0 360.4L776.5 373.1L791.8 390.0" fill="none" stroke="#3a4674" stroke-width="0.8" opacity="0.8" stroke-linejoin="round" stroke-linecap="round" /><rect x="837.6" y="309.4" width="53.5" height="38.2" rx="8" fill="none" stroke="#3a4674" stroke-width=".8" opacity=".85"/><path d="M819.8 337.5L852.9 329.8L891.2 327.3L929.4 322.2L967.7 324.7L1000.0 329.8" fill="none" stroke="#3a4674" stroke-width="0.7" opacity="0.8" stroke-linejoin="round" stroke-linecap="round" /><path d="M891.2 390.0L909.0 380.8L929.4 373.1L944.7 375.7L965.1 385.9L980.4 388.4" fill="none" stroke="#2c70a8" stroke-width="1.1" opacity="0.85" stroke-linejoin="round" stroke-linecap="round" /><path d="M929.4 322.2L934.5 342.6L944.7 362.9L954.9 390.0" fill="none" stroke="#3a4674" stroke-width="0.7" opacity="0.8" stroke-linejoin="round" stroke-linecap="round" /><path d="M954.9 232.9L957.5 261.0L965.1 291.6L975.3 322.2L988.0 352.7L1000.0 362.9" fill="none" stroke="#3a4674" stroke-width="0.7" opacity="0.8" stroke-linejoin="round" stroke-linecap="round" /><path d="M850.4 210.0L852.9 230.4L855.5 255.9L858.0 283.9" fill="none" stroke="#3a4674" stroke-width="0.7" opacity="0.8" stroke-linejoin="round" stroke-linecap="round" /><path d="M819.8 261.0L822.4 281.4L824.9 294.1" fill="none" stroke="#3a4674" stroke-width="0.6" opacity="0.7" stroke-linejoin="round" stroke-linecap="round" /><path d="M878.4 271.2L883.5 294.1L888.6 312.0" fill="none" stroke="#3a4674" stroke-width="0.6" opacity="0.7" stroke-linejoin="round" stroke-linecap="round" /><path d="M989.5 46.7L1015.7 43.8L1036.1 49.6L1050.6 55.5L1071.0 61.3L1091.4 58.4L1114.7 70.0L1138.0 78.8L1155.5 96.2L1167.1 105.0" fill="none" stroke="#2b6296" stroke-width="1" opacity="0.8" stroke-linejoin="round" stroke-linecap="round" /><path d="M1050.6 55.5L1047.7 75.9L1056.5 96.2L1079.8 113.7L1114.7 125.3L1143.8 142.8L1161.3 160.3L1167.1 166.1L1155.5 177.8L1143.8 186.5L1126.3 195.2L1103.0 201.0L1091.4 199.6" fill="none" stroke="#3a4674" stroke-width="0.8" opacity="0.85" stroke-linejoin="round" stroke-linecap="round" /><path d="M940.0 90.4L957.5 81.7L974.9 67.1L989.5 46.7" fill="none" stroke="#3a4674" stroke-width="0.8" opacity="0.8" stroke-linejoin="round" stroke-linecap="round" /><path d="M1024.4 154.5L1027.3 166.1L1024.4 177.8L1033.2 195.2L1036.1 212.7L1041.9 230.2L1053.6 241.8L1059.4 253.5L1056.5 270.9L1059.4 288.4" fill="none" stroke="#2b6296" stroke-width="1" opacity="0.85" stroke-linejoin="round" stroke-linecap="round" /><path d="M940.0 166.1L969.1 169.0L998.2 166.1L1024.4 171.9" fill="none" stroke="#2b6296" stroke-width="0.9" opacity="0.7" stroke-linejoin="round" stroke-linecap="round" /><path d="M1059.4 253.5L1073.9 262.2L1091.4 259.3L1111.8 268.0L1117.6 273.8L1132.2 279.7L1146.7 288.4L1149.6 300.0L1143.8 308.8" fill="none" stroke="#2b6296" stroke-width="1" opacity="0.8" stroke-linejoin="round" stroke-linecap="round" /><path d="M1036.1 201.0L1062.3 198.1L1091.4 199.6L1126.3 195.2" fill="none" stroke="#2b6296" stroke-width="0.9" opacity="0.7" stroke-linejoin="round" stroke-linecap="round" /><path d="M1056.5 215.6L1073.9 241.8L1091.4 268.0L1108.9 294.2L1132.2 326.2L1161.3 364.1" fill="none" stroke="#455286" stroke-width="0.8" opacity="0.8" stroke-linejoin="round" stroke-linecap="round" /><path d="M1062.3 215.6L1091.4 247.6L1114.7 270.9L1143.8 300.0L1172.9 323.3" fill="none" stroke="#3a4674" stroke-width="0.7" opacity="0.8" stroke-linejoin="round" stroke-linecap="round" /><path d="M1004.1 253.5L1056.5 262.2L1114.7 263.6L1172.9 260.7" fill="none" stroke="#3a4674" stroke-width="0.7" opacity="0.8" stroke-linejoin="round" stroke-linecap="round" /><path d="M1059.4 288.4L1062.3 314.6L1056.5 343.7L1062.3 372.8L1068.1 395.0" fill="none" stroke="#3a4674" stroke-width="0.7" opacity="0.8" stroke-linejoin="round" stroke-linecap="round" /><path d="M1018.6 291.3L1056.5 294.2L1103.0 297.1L1143.8 311.7L1172.9 314.6" fill="none" stroke="#3a4674" stroke-width="0.7" opacity="0.8" stroke-linejoin="round" stroke-linecap="round" /><path d="M940.0 323.3L974.9 329.2L1015.7 326.2L1056.5 343.7L1091.4 358.3L1126.3 381.6" fill="none" stroke="#3a4674" stroke-width="0.7" opacity="0.8" stroke-linejoin="round" stroke-linecap="round" /><path d="M1114.7 352.4L1143.8 343.7L1172.9 346.6" fill="none" stroke="#3a4674" stroke-width="0.7" opacity="0.7" stroke-linejoin="round" stroke-linecap="round" /><path d="M1143.8 206.9L1140.9 236.0L1143.8 265.1L1149.6 300.0" fill="none" stroke="#3a4674" stroke-width="0.7" opacity="0.8" stroke-linejoin="round" stroke-linecap="round" /><path d="M957.5 218.5L960.4 247.6L951.6 270.9L954.6 300.0L966.2 329.2L969.1 358.3L986.6 375.7L998.2 395.0" fill="none" stroke="#2b6296" stroke-width="1" opacity="0.8" stroke-linejoin="round" stroke-linecap="round" /><path d="M940.0 294.2L951.6 311.7L960.4 329.2L974.9 343.7L992.4 358.3L989.5 372.8L998.2 381.6" fill="none" stroke="#2c70a8" stroke-width="1.1" opacity="0.8" stroke-linejoin="round" stroke-linecap="round" /><path d="M966.2 332.1L967.7 358.3L969.1 387.4" fill="none" stroke="#3a4674" stroke-width="0.7" opacity="0.8" stroke-linejoin="round" stroke-linecap="round" /><path d="M983.7 329.2L986.6 358.3L983.7 387.4" fill="none" stroke="#3a4674" stroke-width="0.7" opacity="0.8" stroke-linejoin="round" stroke-linecap="round" /><path d="M940.0 346.6L974.9 349.5L1015.7 346.6" fill="none" stroke="#3a4674" stroke-width="0.7" opacity="0.8" stroke-linejoin="round" stroke-linecap="round" /><path d="M940.0 375.7L983.7 372.8L1027.3 378.7L1062.3 372.8" fill="none" stroke="#3a4674" stroke-width="0.7" opacity="0.8" stroke-linejoin="round" stroke-linecap="round" /><path d="M1103.0 40.9L1114.7 49.6L1143.8 64.2L1161.3 78.8" fill="none" stroke="#3a4674" stroke-width="0.7" opacity="0.7" stroke-linejoin="round" stroke-linecap="round" /><path d="M1097.2 122.4L1126.3 131.2L1143.8 142.8" fill="none" stroke="#3a4674" stroke-width="0.6" opacity="0.7" stroke-linejoin="round" stroke-linecap="round" /><path d="M940.0 259.3L983.7 268.0L1027.3 279.7L1052.1 288.4" fill="none" stroke="#2d7cba" stroke-width="1.2" opacity="0.32" stroke-linejoin="round" stroke-linecap="round" /><path d="M1052.1 288.4L1085.6 317.5L1120.5 352.4L1155.5 390.3" fill="none" stroke="#2d7cba" stroke-width="1.5" opacity="0.7" stroke-linejoin="round" stroke-linecap="round" /><path d="M1052.1 288.4L1085.6 317.5L1120.5 352.4L1155.5 390.3" fill="none" stroke="#3a98d8" stroke-width="2.6" opacity="0.2" stroke-linejoin="round" stroke-linecap="round" /><circle cx="577" cy="125" r="9" fill="#3fa8c8" opacity=".16" filter="url(#mg)"/><circle cx="560" cy="215" r="8" fill="#3fa8c8" opacity=".16" filter="url(#mg)"/><circle cx="590" cy="212" r="7" fill="#3fa8c8" opacity=".16" filter="url(#mg)"/><circle cx="470" cy="292" r="10" fill="#3fa8c8" opacity=".16" filter="url(#mg)"/><circle cx="820" cy="140" r="9" fill="#3fa8c8" opacity=".16" filter="url(#mg)"/><circle cx="735" cy="135" r="9" fill="#3fa8c8" opacity=".16" filter="url(#mg)"/><circle cx="700" cy="124" r="7" fill="#3fa8c8" opacity=".16" filter="url(#mg)"/><circle cx="945" cy="260" r="9" fill="#3fa8c8" opacity=".16" filter="url(#mg)"/><circle cx="1168" cy="240" r="10" fill="#3fa8c8" opacity=".16" filter="url(#mg)"/><circle cx="531" cy="293" r="7" fill="#3fa8c8" opacity=".16" filter="url(#mg)"/><circle cx="765" cy="83" r="8" fill="#3fa8c8" opacity=".16" filter="url(#mg)"/><g font-family="Liberation Sans,Noto Sans CJK SC,sans-serif" text-anchor="middle" font-weight="500"><text x="477" y="75.2" font-size="7.300" fill="#8ae6f8">张家口市</text><text x="774.7" y="226.10000000000002" font-size="7.300" fill="#8ae6f8">北京市</text><text x="1081.8" y="55.4" font-size="7.300" fill="#8ae6f8">承德市</text><text x="857.3" y="325.0" font-size="7.300" fill="#8ae6f8">廊坊市</text><text x="1053" y="165.9" font-size="5.700" fill="#62d6ee">梨木台</text><text x="1090" y="171.1" font-size="5.700" fill="#62d6ee">清东陵景区</text><text x="990.6" y="186.1" font-size="5.700" fill="#62d6ee">盘山风景名胜区</text><text x="960" y="155.6" font-size="5.700" fill="#62d6ee">平谷桃花海</text><text x="545.8" y="194.6" font-size="5.700" fill="#62d6ee">灵山自然风景区</text><text x="618" y="187.1" font-size="5.700" fill="#62d6ee">珍珠湖景区</text><text x="638.8" y="120.39999999999999" font-size="5.700" fill="#62d6ee">黄松达部落</text><text x="763.7" y="85.5" font-size="5.700" fill="#62d6ee">百里山水画廊</text><text x="683" y="163.2" font-size="5.500" fill="#62d6ee">白羊沟自然</text><text x="683" y="169" font-size="5.500" fill="#62d6ee">风景区</text><text x="516.5" y="251.2" font-size="5.500" fill="#62d6ee">野三坡白草</text><text x="516.5" y="257" font-size="5.500" fill="#62d6ee">畔森林公园</text><text x="550" y="256.2" font-size="5.500" fill="#62d6ee">白草畔风景</text><text x="550" y="262" font-size="5.500" fill="#62d6ee">旅游区</text><text x="469.8" y="285.7" font-size="5.500" fill="#62d6ee">涞水县野三坡</text><text x="469.8" y="291.5" font-size="5.500" fill="#62d6ee">风景区</text><text x="799.4" y="55.800000000000004" font-size="5.500" fill="#62d6ee">北京喇叭沟</text><text x="799.4" y="61.6" font-size="5.500" fill="#62d6ee">原始森林公园</text><text x="798.6" y="122.60000000000001" font-size="5.500" fill="#62d6ee">鹤水河长城</text><text x="798.6" y="128.4" font-size="5.500" fill="#62d6ee">旅游区</text><text x="850.4" y="118.8" font-size="5.500" fill="#62d6ee">云蒙三峪</text><text x="850.4" y="124.6" font-size="5.500" fill="#62d6ee">自然风景区</text><text x="752.3" y="155.7" font-size="5.500" fill="#62d6ee">蟒山国家</text><text x="752.3" y="161.5" font-size="5.500" fill="#62d6ee">森林公园</text><text x="791.3" y="153.7" font-size="5.500" fill="#62d6ee">大杨山国家</text><text x="791.3" y="159.5" font-size="5.500" fill="#62d6ee">森林公园</text><text x="903.4" y="167.7" font-size="5.500" fill="#62d6ee">舞彩浅山滨水</text><text x="903.4" y="173.5" font-size="5.500" fill="#62d6ee">国家登山步道</text><text x="918" y="276.2" font-size="5.500" fill="#62d6ee">河北中信</text><text x="918" y="282" font-size="5.500" fill="#62d6ee">国安第一城</text><text x="570.5" y="49.7" font-size="4.600" fill="#4fcbe8" opacity=".95">崇礼区</text><text x="672" y="57.7" font-size="4.600" fill="#4fcbe8" opacity=".95">赤城县</text><text x="505.5" y="96.3" font-size="4.600" fill="#4fcbe8" opacity=".95">宣化区</text><text x="536.8" y="112.7" font-size="4.600" fill="#4fcbe8" opacity=".95">下花园区</text><text x="507.3" y="131.5" font-size="4.600" fill="#4fcbe8" opacity=".95">涿鹿县</text><text x="591" y="213.7" font-size="4.600" fill="#4fcbe8" opacity=".95">双龙峡</text><text x="531" y="292.0" font-size="4.600" fill="#4fcbe8" opacity=".95">十渡风景区</text><text x="631" y="339.2" font-size="4.600" fill="#4fcbe8" opacity=".95">涿州市</text><text x="536" y="369.0" font-size="4.600" fill="#4fcbe8" opacity=".95">涞水县</text><text x="456.3" y="385.0" font-size="4.600" fill="#4fcbe8" opacity=".95">易县</text><text x="697.4" y="263.4" font-size="4.600" fill="#4fcbe8" opacity=".95">房山区</text><text x="839" y="178.7" font-size="4.600" fill="#4fcbe8" opacity=".95">顺义区</text><text x="953.6" y="176.6" font-size="4.600" fill="#4fcbe8" opacity=".95">平谷区</text><text x="952.4" y="209.2" font-size="4.600" fill="#4fcbe8" opacity=".95">三河市</text><text x="961.3" y="55.5" font-size="4.600" fill="#4fcbe8" opacity=".95">滦平县</text><text x="725.5" y="225.0" font-size="4.600" fill="#4fcbe8" opacity=".95">石景山区</text><text x="842.2" y="225.0" font-size="4.600" fill="#4fcbe8" opacity=".95">通州区</text><text x="753.5" y="269.7" font-size="4.600" fill="#4fcbe8" opacity=".95">大兴区</text><text x="932.7" y="230.7" font-size="4.600" fill="#4fcbe8" opacity=".95">大厂回族自治县</text><text x="733" y="355.2" font-size="4.600" fill="#4fcbe8" opacity=".95">固安县</text><text x="982.4" y="376.7" font-size="4.600" fill="#4fcbe8" opacity=".95">武清区</text><text x="1050" y="53.7" font-size="4.600" fill="#4fcbe8" opacity=".95">双滦区</text><text x="1139.5" y="77.60000000000001" font-size="4.600" fill="#4fcbe8" opacity=".95">承德县</text><text x="1051.2" y="108.7" font-size="4.600" fill="#4fcbe8" opacity=".95">鹰手营子矿区</text><text x="1026" y="128.5" font-size="4.600" fill="#4fcbe8" opacity=".95">兴隆县</text><text x="1157" y="168.7" font-size="4.600" fill="#4fcbe8" opacity=".95">遵化市</text><text x="1032.6" y="196.39999999999998" font-size="4.600" fill="#4fcbe8" opacity=".95">蓟州区</text><text x="1135.7" y="229.5" font-size="4.600" fill="#4fcbe8" opacity=".95">玉田县</text><text x="1035.2" y="273.5" font-size="4.600" fill="#4fcbe8" opacity=".95">宝坻区</text><text x="697" y="216.7" font-size="4.600" fill="#4fcbe8" opacity=".95">门头沟区</text><text x="712" y="144.7" font-size="4.600" fill="#4fcbe8" opacity=".95">昌平区</text></g><ellipse cx="703.8" cy="196.5" rx="7" ry="5.500" fill="#22e022" opacity=".35" filter="url(#dg)"/><ellipse cx="703.8" cy="196.5" rx="4.700" ry="3.600" fill="#1fe61f"/><ellipse cx="879.2" cy="180.7" rx="7" ry="5.500" fill="#22e022" opacity=".35" filter="url(#dg)"/><ellipse cx="879.2" cy="180.7" rx="4.700" ry="3.600" fill="#1fe61f"/><ellipse cx="963.8" cy="203.2" rx="7" ry="5.500" fill="#22e022" opacity=".35" filter="url(#dg)"/><ellipse cx="963.8" cy="203.2" rx="4.700" ry="3.600" fill="#1fe61f"/><ellipse cx="790" cy="235" rx="7" ry="5.500" fill="#22e022" opacity=".35" filter="url(#dg)"/><ellipse cx="790" cy="235" rx="4.700" ry="3.600" fill="#1fe61f"/><ellipse cx="799.9" cy="313.2" rx="7" ry="5.500" fill="#22e022" opacity=".35" filter="url(#dg)"/><ellipse cx="799.9" cy="313.2" rx="4.700" ry="3.600" fill="#1fe61f"/><ellipse cx="906.5" cy="291.6" rx="7" ry="5.500" fill="#22e022" opacity=".35" filter="url(#dg)"/><ellipse cx="906.5" cy="291.6" rx="4.700" ry="3.600" fill="#1fe61f"/><ellipse cx="906.5" cy="369.6" rx="7" ry="5.500" fill="#22e022" opacity=".35" filter="url(#dg)"/><ellipse cx="906.5" cy="369.6" rx="4.700" ry="3.600" fill="#1fe61f"/><ellipse cx="633.7" cy="326.2" rx="7" ry="5.500" fill="#22e022" opacity=".35" filter="url(#dg)"/><ellipse cx="633.7" cy="326.2" rx="4.700" ry="3.600" fill="#1fe61f"/><ellipse cx="662.7" cy="180.2" rx="23.500" ry="13.500" fill="#6e1426" opacity=".48"/><ellipse cx="662.7" cy="180.2" rx="23.500" ry="13.500" fill="none" stroke="#8e1c2c" stroke-width="1.600" opacity=".55"/><ellipse cx="662.7" cy="180.2" rx="17" ry="9.600" fill="#8a182a" opacity=".4"/><ellipse cx="662.7" cy="180.2" rx="10.500" ry="5.800" fill="#5a1428" opacity=".7" stroke="#e03040" stroke-width="1.300"/><ellipse cx="662.7" cy="180.2" rx="4.500" ry="2.400" fill="none" stroke="#c02838" stroke-width=".8" opacity=".8"/><path d="M655.5 165.3L663.0 160.7L670.7 165.3L663.7 167.4Z" fill="#ff7a6a"/><path d="M655.5 165.3L663.7 167.4L662.7 179Z" fill="#ff5040"/><path d="M670.7 165.3L663.7 167.4L662.7 179Z" fill="#c8201c"/><ellipse cx="877" cy="132.7" rx="23.500" ry="13.500" fill="#6e1426" opacity=".48"/><ellipse cx="877" cy="132.7" rx="23.500" ry="13.500" fill="none" stroke="#8e1c2c" stroke-width="1.600" opacity=".55"/><ellipse cx="877" cy="132.7" rx="17" ry="9.600" fill="#8a182a" opacity=".4"/><ellipse cx="877" cy="132.7" rx="10.500" ry="5.800" fill="#5a1428" opacity=".7" stroke="#e03040" stroke-width="1.300"/><ellipse cx="877" cy="132.7" rx="4.500" ry="2.400" fill="none" stroke="#c02838" stroke-width=".8" opacity=".8"/><path d="M869.8 117.8L877.3 113.2L885 117.8L878 119.9Z" fill="#ff7a6a"/><path d="M869.8 117.8L878 119.9L877 131.5Z" fill="#ff5040"/><path d="M885 117.8L878 119.9L877 131.5Z" fill="#c8201c"/><rect x="614.4" y="129.1" width="97.2" height="26.8" fill="#221c2a" opacity=".8"/><rect x="613.4" y="127.6" width="99.2" height="29.8" fill="none" stroke="#c22c30" stroke-width="2.500" opacity=".28" filter="url(#pg)"/><path d="M614.4 129.1H711.6M614.4 155.9H711.6" stroke="#a8262c" stroke-width=".9" opacity=".85"/><path d="M614.4 129.1V155.9M711.6 129.1V155.9" stroke="#8a2030" stroke-width=".8" opacity=".7"/><path d="M614.4 150.9V155.9H620.4M711.6 150.9V155.9H705.6" fill="none" stroke="#d8a220" stroke-width="1.200" opacity=".9"/><path d="M626.0 136.6L632.4 147.6H619.6Z" fill="#e63a36" stroke="#e63a36" stroke-width="1.200" stroke-linejoin="round"/><path d="M626.0 140.2V144.0" stroke="#5a1a20" stroke-width="1.300"/><circle cx="626.0" cy="145.9" r=".8" fill="#5a1a20"/><text x="637.6" y="140.5" font-size="6.400" fill="#cfcfd6" font-family="Liberation Sans,Noto Sans CJK SC,sans-serif" font-weight="500">中心<tspan fill="#7c7c88" filter="url(#tb)">机房</tspan>一出现异常告警</text><text x="637.6" y="150.29999999999998" font-size="6.400" fill="#e2403e" font-family="Liberation Sans,Noto Sans CJK SC,sans-serif" font-weight="500"><tspan fill="#7a2c34" filter="url(#tb)">温度</tspan>突然升高</text><rect x="828.2" y="81.3" width="98.2" height="26.7" fill="#221c2a" opacity=".8"/><rect x="827.2" y="79.8" width="100.2" height="29.7" fill="none" stroke="#c22c30" stroke-width="2.500" opacity=".28" filter="url(#pg)"/><path d="M828.2 81.3H926.4000000000001M828.2 108.0H926.4000000000001" stroke="#a8262c" stroke-width=".9" opacity=".85"/><path d="M828.2 81.3V108.0M926.4000000000001 81.3V108.0" stroke="#8a2030" stroke-width=".8" opacity=".7"/><path d="M828.2 103.0V108.0H834.2M926.4000000000001 103.0V108.0H920.4000000000001" fill="none" stroke="#d8a220" stroke-width="1.200" opacity=".9"/><path d="M839.8000000000001 88.8L846.2 99.8H833.4000000000001Z" fill="#e63a36" stroke="#e63a36" stroke-width="1.200" stroke-linejoin="round"/><path d="M839.8000000000001 92.39999999999999V96.2" stroke="#5a1a20" stroke-width="1.300"/><circle cx="839.8000000000001" cy="98.1" r=".8" fill="#5a1a20"/><text x="851.4000000000001" y="92.7" font-size="6.400" fill="#cfcfd6" font-family="Liberation Sans,Noto Sans CJK SC,sans-serif" font-weight="500"><tspan fill="#7c7c88" filter="url(#tb)">配电间</tspan>一出现异常告警</text><text x="862.9000000000001" y="102.5" font-size="6.400" fill="#e2403e" font-family="Liberation Sans,Noto Sans CJK SC,sans-serif" font-weight="500"><tspan fill="#7a2c34" filter="url(#tb)">通</tspan>讯中断</text><rect x="1154.400" y="45.400" width="18.300" height="18.300" fill="#343b60"/><rect x="1154.400" y="71.400" width="18.300" height="17" fill="#2f3658" opacity=".9"/><g fill="none" stroke="#e8eaf2" stroke-width=".9"><circle cx="1163.500" cy="54.500" r="4.800"/><ellipse cx="1163.500" cy="54.500" rx="2.100" ry="4.800"/><path d="M1158.700 54.500h9.600M1159.500 52h8M1159.500 57h8"/></g><g stroke="#7c84a0" stroke-width="1" opacity=".7" filter="url(#tb)"><path d="M1160 77h7M1159 80h8M1160 83h7"/></g></svg><div class="card" style="left:40px;top:398px;width:184px;height:183px"><div class="t" style="left:9.500px;top:9.500px;font-size:14.700px;color:#f2f3f7;font-weight:500;line-height:17px">空调开机率</div><svg class="abs" style="left:0;top:0;width:184px;height:183px" viewBox="0 0 184 183"><defs><filter id="glb" x="-50%" y="-50%" width="200%" height="200%"><feGaussianBlur stdDeviation="4"/></filter></defs><circle cx="50.3" cy="138.4" r="9" fill="#2aa8f0" opacity=".35" filter="url(#glb)"/><path d="M51.86 140.14A53.5 53.5 0 1 1 130.74 140.14" fill="none" stroke="#085db0" stroke-width="15.5"/><path d="M51.86 140.14A53.5 53.5 0 0 1 48.86 136.57" fill="none" stroke="#22b5fb" stroke-width="15.5"/><path d="M46.65 133.48A53.5 53.5 0 0 1 44.26 129.48" fill="none" stroke="#22b5fb" stroke-width="15.5"/><path d="M42.57 126.08A53.5 53.5 0 0 1 40.83 121.75" fill="none" stroke="#22b5fb" stroke-width="15.5"/><path d="M39.70 118.13A53.5 53.5 0 0 1 38.66 113.58" fill="none" stroke="#22b5fb" stroke-width="15.5"/><path d="M38.12 109.82A53.5 53.5 0 0 1 37.81 105.17" fill="none" stroke="#22b5fb" stroke-width="15.5"/><path d="M37.86 101.37A53.5 53.5 0 0 1 38.30 96.73" fill="none" stroke="#22b5fb" stroke-width="15.5"/><path d="M38.94 92.99A53.5 53.5 0 0 1 40.10 88.47" fill="none" stroke="#22b5fb" stroke-width="15.5"/><path d="M41.33 84.88A53.5 53.5 0 0 1 43.19 80.60" fill="none" stroke="#22b5fb" stroke-width="15.5"/><path d="M44.97 77.25A53.5 53.5 0 0 1 47.48 73.31" fill="none" stroke="#22b5fb" stroke-width="15.5"/><path d="M49.76 70.29A53.5 53.5 0 0 1 52.86 66.79" fill="none" stroke="#22b5fb" stroke-width="15.5"/><path d="M55.59 64.16A53.5 53.5 0 0 1 59.20 61.20" fill="none" stroke="#22b5fb" stroke-width="15.5"/><path d="M62.31 59.04A53.5 53.5 0 0 1 66.34 56.68" fill="none" stroke="#22b5fb" stroke-width="15.5"/><path d="M69.75 55.03A53.5 53.5 0 0 1 74.10 53.34" fill="none" stroke="#22b5fb" stroke-width="15.5"/><path d="M77.74 52.25A53.5 53.5 0 0 1 82.30 51.26" fill="none" stroke="#22b5fb" stroke-width="15.5"/><path d="M86.06 50.76A53.5 53.5 0 0 1 90.72 50.50" fill="none" stroke="#22b5fb" stroke-width="15.5"/><path d="M94.51 50.60A53.5 53.5 0 0 1 99.15 51.08" fill="none" stroke="#22b5fb" stroke-width="15.5"/><path d="M102.88 51.77A53.5 53.5 0 0 1 107.39 52.98" fill="none" stroke="#22b5fb" stroke-width="15.5"/></svg><div class="t" style="left:50.30000000000001px;top:90.4px;width:80px;text-align:center;font-family:'Liberation Serif',serif;font-size:26.500px;line-height:30px;color:#fff;transform:scaleX(.730);letter-spacing:-.300px">67%</div><div class="t" style="left:25px;top:158.500px;font-size:10.300px;color:#b4b8c8;line-height:13px">0（台）</div><div class="blur" style="left:122px;top:159px;width:14px;height:11px;background:#565b78;opacity:.8;filter:blur(2.500px)"></div><div class="t" style="left:136.500px;top:158.500px;font-size:10.300px;color:#b4b8c8;line-height:13px">（台）</div></div><div class="card" style="left:228.8px;top:398px;width:184px;height:183px"><div class="t" style="left:9.500px;top:9.500px;font-size:14.700px;color:#f2f3f7;font-weight:500;line-height:17px">空调故障率</div><svg class="abs" style="left:0;top:0;width:184px;height:183px" viewBox="0 0 184 183"><defs><filter id="glo" x="-50%" y="-50%" width="200%" height="200%"><feGaussianBlur stdDeviation="4"/></filter></defs><circle cx="134.3" cy="141.4" r="8" fill="#f06a10" opacity=".4" filter="url(#glo)"/><path d="M51.86 140.14A53.5 53.5 0 1 1 130.74 140.14" fill="none" stroke="#ef6a08" stroke-width="15.5"/><path d="M51.86 140.14A53.5 53.5 0 0 1 48.29 135.82" fill="none" stroke="#fb9448" stroke-width="15.5"/></svg><div class="t" style="left:50.30000000000001px;top:90.4px;width:80px;text-align:center;font-family:'Liberation Serif',serif;font-size:26.500px;line-height:30px;color:#fff;transform:scaleX(.730);letter-spacing:-.300px">2%</div><div class="t" style="left:25px;top:158.500px;font-size:10.300px;color:#b4b8c8;line-height:13px">0（台）</div><div class="blur" style="left:122px;top:159px;width:14px;height:11px;background:#565b78;opacity:.8;filter:blur(2.500px)"></div><div class="t" style="left:136.500px;top:158.500px;font-size:10.300px;color:#b4b8c8;line-height:13px">（台）</div></div><div class="card" style="left:417.5px;top:398px;width:378.500px;height:183px"><div class="t" style="left:12.500px;top:9.500px;font-size:14.700px;color:#f2f3f7;font-weight:500;line-height:17px">近七天总用量趋势<span style="letter-spacing:.450px">(kw.h)</span></div><svg class="abs" style="left:0;top:0;width:378.500px;height:183px" viewBox="0 0 378.500 183"><defs><linearGradient id="ar" x1="0" y1="0" x2="0" y2="1"><stop offset="0" stop-color="#1f86aa" stop-opacity=".72"/><stop offset=".6" stop-color="#1f7ca0" stop-opacity=".40"/><stop offset="1" stop-color="#23607f" stop-opacity=".06"/></linearGradient><filter id="b2" x="-50%" y="-50%" width="200%" height="200%"><feGaussianBlur stdDeviation=".550"/></filter></defs><path d="M22.5 48.4H353.7" stroke="#1c8eab" stroke-width="1" stroke-dasharray="1.200 1.300" opacity=".68"/><path d="M22.5 71.6H353.7" stroke="#1c8eab" stroke-width="1" stroke-dasharray="1.200 1.300" opacity=".68"/><path d="M22.5 93.1H353.7" stroke="#1c8eab" stroke-width="1" stroke-dasharray="1.200 1.300" opacity=".68"/><path d="M22.5 115.6H353.7" stroke="#1c8eab" stroke-width="1" stroke-dasharray="1.200 1.300" opacity=".68"/><path d="M22.5 137.8H353.7" stroke="#1c8eab" stroke-width="1" stroke-dasharray="1.200 1.300" opacity=".68"/><path d="M22.5 55H353.7" stroke="#a8393f" stroke-width=".9" stroke-dasharray="1.200 1.300" opacity=".55"/><path d="M22.4 117.9L35.6 111.3L61.4 104.7L85.3 91.4L111.2 79.8L135.3 92.1L161.5 86.5L186.7 69.2L209.9 46.0L234.1 61.9L261.6 98.1L288.4 107.3L312.3 130.9L337.8 127.5L353.7 132.2L353.7 158.4L22.4 158.4Z" fill="url(#ar)"/><path d="M22.5 38.4V158.4H353.7" fill="none" stroke="#1b86a8" stroke-width="1"/><path d="M113.5 155v5" stroke="#24a6cc" stroke-width="1.200"/><path d="M207.9 155v5" stroke="#24a6cc" stroke-width="1.200"/><path d="M304.0 155v5" stroke="#24a6cc" stroke-width="1.200"/><path d="M353.2 155v5" stroke="#24a6cc" stroke-width="1.200"/><path d="M22.4 117.9L35.6 111.3L61.4 104.7L85.3 91.4L111.2 79.8L135.3 92.1L161.5 86.5L186.7 69.2L209.9 46.0L234.1 61.9L261.6 98.1L288.4 107.3L312.3 130.9L337.8 127.5L353.7 132.2" fill="none" stroke="#1cc0ef" stroke-width="1.800" stroke-linejoin="round"/><path d="M197.5 58.5L209.89999999999998 46" stroke="#e24a4a" stroke-width="2"/><circle cx="35.6" cy="111.3" r="2.100" fill="#223a5e" stroke="#1cc0ef" stroke-width="1.400"/><circle cx="61.4" cy="104.7" r="2.100" fill="#223a5e" stroke="#1cc0ef" stroke-width="1.400"/><circle cx="85.3" cy="91.4" r="2.100" fill="#223a5e" stroke="#ffffff" stroke-width="1.400"/><circle cx="111.2" cy="79.8" r="2.100" fill="#223a5e" stroke="#1cc0ef" stroke-width="1.400"/><circle cx="135.3" cy="92.1" r="2.100" fill="#223a5e" stroke="#1cc0ef" stroke-width="1.400"/><circle cx="161.5" cy="86.5" r="2.100" fill="#223a5e" stroke="#1cc0ef" stroke-width="1.400"/><circle cx="186.7" cy="69.2" r="2.100" fill="#223a5e" stroke="#1cc0ef" stroke-width="1.400"/><circle cx="209.9" cy="46.0" r="2.100" fill="#223a5e" stroke="#e05555" stroke-width="1.400"/><circle cx="234.1" cy="61.9" r="2.100" fill="#223a5e" stroke="#1cc0ef" stroke-width="1.400"/><circle cx="261.6" cy="98.1" r="2.100" fill="#223a5e" stroke="#1cc0ef" stroke-width="1.400"/><circle cx="288.4" cy="107.3" r="2.100" fill="#223a5e" stroke="#1cc0ef" stroke-width="1.400"/><circle cx="312.3" cy="130.9" r="2.100" fill="#223a5e" stroke="#1cc0ef" stroke-width="1.400"/><circle cx="337.8" cy="127.5" r="2.100" fill="#223a5e" stroke="#1cc0ef" stroke-width="1.400"/><path d="M85.3 38.4V158.4" stroke="#b6bac6" stroke-width="1.300"/><path d="M209.9 38.4V146" stroke="#dc4a4a" stroke-width=".9"/><rect x="91.3" y="85.8" width="20" height="11.600" rx="1.500" fill="#aeb6c2" opacity=".85"/><rect x="216.2" y="40.7" width="19.500" height="11.600" rx="1.500" fill="#d63c3e" opacity=".9"/><text x="101.3" y="95" font-size="8" fill="#7d8796" text-anchor="middle" filter="url(#b2)" font-family="Liberation Sans,sans-serif">412</text><text x="225.9" y="50" font-size="8" fill="#8a2a30" text-anchor="middle" filter="url(#b2)" font-family="Liberation Sans,sans-serif">810</text></svg><div class="blur" style="left:23.3px;top:165px;width:19.9px;height:10px;background:#5d6280;opacity:.75;filter:blur(2.400px)"></div><div class="t" style="left:42.2px;top:164px;font-size:9.800px;color:#c4c8d4;line-height:12px">-5-16</div><div class="blur" style="left:113.5px;top:165px;width:21.8px;height:10px;background:#5d6280;opacity:.75;filter:blur(2.400px)"></div><div class="t" style="left:134.3px;top:164px;font-size:9.800px;color:#c4c8d4;line-height:12px">5-18</div><div class="blur" style="left:209.5px;top:165px;width:14.3px;height:10px;background:#5d6280;opacity:.75;filter:blur(2.400px)"></div><div class="t" style="left:222.8px;top:164px;font-size:9.800px;color:#c4c8d4;line-height:12px">9-5-20</div><div class="blur" style="left:304.0px;top:165px;width:23.2px;height:10px;background:#5d6280;opacity:.75;filter:blur(2.400px)"></div><div class="t" style="left:326.2px;top:164px;font-size:9.800px;color:#c4c8d4;line-height:12px">5-22</div></div><div class="card" style="left:798.5px;top:398px;width:373.500px;height:183px;background:linear-gradient(90deg,#303450 0,#303450 92%,#2a2e48 100%)"><div class="t" style="left:12.500px;top:9.500px;font-size:14.700px;color:#f2f3f7;font-weight:500;line-height:17px">当天用电排名<span style="letter-spacing:.500px">(Top4) (kw.h)</span></div><div class="abs" style="left:29.0px;top:52.8px;width:315px;height:12.400px;border-radius:6.200px;background:linear-gradient(90deg,#4d526b 0,#4d526b 72%,#42465f 100%)"></div><div class="abs" style="left:29.0px;top:52.8px;width:185.7px;height:12.400px;border-radius:6.200px;background:linear-gradient(180deg,#27a4fa,#1c8ef0)"></div><div class="abs" style="left:29.7px;top:40.2px;width:5.800px;height:5.800px;border-radius:50%;border:1.500px solid #2bb0e8"></div><div class="blur" style="left:41.5px;top:37.4px;width:33.3px;height:12px;background:#2f6fc0;opacity:.55;filter:blur(3px)"></div><div class="t" style="left:72.8px;top:37.4px;font-size:9px;color:#6ea4f0;line-height:12px;font-weight:700">#空调</div><div class="abs" style="left:29.0px;top:87.0px;width:315px;height:12.400px;border-radius:6.200px;background:linear-gradient(90deg,#4d526b 0,#4d526b 72%,#42465f 100%)"></div><div class="abs" style="left:29.0px;top:87.0px;width:141.2px;height:12.400px;border-radius:6.200px;background:linear-gradient(180deg,#a184f0,#7d5fdc)"></div><div class="abs" style="left:29.7px;top:74.3px;width:5.800px;height:5.800px;border-radius:50%;border:1.500px solid #9a7de8"></div><div class="blur" style="left:41.5px;top:71.5px;width:40.8px;height:12px;background:#5a5390;opacity:.55;filter:blur(3px)"></div><div class="t" style="left:80.3px;top:71.5px;font-size:9px;color:#6ea4f0;line-height:12px;font-weight:700">空调</div><div class="abs" style="left:29.0px;top:121.2px;width:315px;height:12.400px;border-radius:6.200px;background:linear-gradient(90deg,#4d526b 0,#4d526b 72%,#42465f 100%)"></div><div class="abs" style="left:29.0px;top:121.2px;width:90.9px;height:12.400px;border-radius:6.200px;background:linear-gradient(180deg,#52d030,#2eae22)"></div><div class="blur" style="left:29.5px;top:105.6px;width:41.0px;height:12px;background:#2c7a3a;opacity:.55;filter:blur(3px)"></div><div class="t" style="left:68.5px;top:105.6px;font-size:9px;color:#6ea4f0;line-height:12px;font-weight:700">大厅空调</div><div class="abs" style="left:29.0px;top:156.8px;width:315px;height:12.400px;border-radius:6.200px;background:linear-gradient(90deg,#4d526b 0,#4d526b 72%,#42465f 100%)"></div><div class="abs" style="left:29.0px;top:156.8px;width:59.1px;height:12.400px;border-radius:6.200px;background:linear-gradient(180deg,#fcca2e,#eeb018)"></div><div class="abs" style="left:29.7px;top:144.1px;width:5.800px;height:5.800px;border-radius:50%;border:1.500px solid #f2bc22"></div><div class="blur" style="left:41.5px;top:141.3px;width:31.0px;height:12px;background:#6a6050;opacity:.55;filter:blur(3px)"></div><div class="t" style="left:70.5px;top:141.3px;font-size:9px;color:#6ea4f0;line-height:12px;font-weight:700">102空调</div><div class="blur" style="left:39.5px;top:47px;width:34px;height:16px;background:#2c86dc;opacity:.5;filter:blur(4px)"></div><div class="blur" style="left:27.5px;top:114px;width:42px;height:20px;background:#2f9a2c;opacity:.55;filter:blur(4px)"></div><div class="blur" style="left:39.5px;top:151px;width:30px;height:14px;background:#d9a520;opacity:.5;filter:blur(4px)"></div><div class="t" style="left:324.5px;top:37.5px;font-size:8.500px;color:#8a8fa8;filter:blur(.900px);line-height:12px">332</div><div class="blur" style="left:299.5px;top:72px;width:46px;height:10px;background:#3b3f59;opacity:.8;filter:blur(3px)"></div><div class="blur" style="left:299.5px;top:88px;width:46px;height:10px;background:#3b3f59;opacity:.8;filter:blur(3px)"></div><div class="blur" style="left:299.5px;top:106px;width:46px;height:10px;background:#3b3f59;opacity:.8;filter:blur(3px)"></div><div class="blur" style="left:299.5px;top:122px;width:46px;height:10px;background:#3b3f59;opacity:.8;filter:blur(3px)"></div><div class="blur" style="left:299.5px;top:142px;width:46px;height:10px;background:#3b3f59;opacity:.8;filter:blur(3px)"></div><div class="blur" style="left:299.5px;top:158px;width:46px;height:10px;background:#3b3f59;opacity:.8;filter:blur(3px)"></div></div><div class="hdr"><svg class="abs" style="left:0;top:0;width:40px;height:31px" viewBox="0 0 40 31">
<defs><linearGradient id="lgA" x1="0" y1="0" x2="1" y2="0"><stop offset="0" stop-color="#1f8fd0"/><stop offset=".55" stop-color="#2cb6ec"/><stop offset="1" stop-color="#2e86d8"/></linearGradient></defs>
<path d="M12.800 9.900C15.500 5 22.500 1.400 27.800 3.600C31.400 5.200 32.600 8.800 31.900 11.800" fill="none" stroke="url(#lgA)" stroke-width="1.500" stroke-linecap="round"/>
<path d="M10.400 23.600C13 28.200 19.200 29.600 24.400 25.700C26.600 24 28 22.600 28.700 20.900" fill="none" stroke="#2a78d0" stroke-width="1.500" stroke-linecap="round"/>
<g transform="translate(8.600 19.900) skewX(-22)"><text x="0" y="0" font-family="Liberation Sans,sans-serif" font-size="9.600" font-weight="700" font-style="italic" fill="#1fa6e2" textLength="23.500" lengthAdjust="spacingAndGlyphs">ZHT</text></g>
<path d="M27 13.600h7.600" stroke="#1fa6e2" stroke-width="1.200"/>
</svg><div class="ttl">纵横通空调管理系统</div><svg class="abs" style="left:1126px;top:6px;width:36px;height:20px" viewBox="0 0 36 20">
<circle cx="10.100" cy="9.800" r="7.300" fill="none" stroke="#fff" stroke-width="1.600"/>
<circle cx="10.100" cy="7.800" r="2.300" fill="none" stroke="#fff" stroke-width="1.500"/>
<path d="M5.600 14.300c1-1.700 2.600-2.300 4.500-2.300s3.500.6 4.500 2.300" fill="none" stroke="#fff" stroke-width="1.600"/>
<path d="M25.200 8.200h8.400l-4.200 4.400z" fill="#fff"/></svg></div></div><div class="cap" style="top:601px;line-height:27px;left:514.800px;width:auto">空调管理系统-概览</div><div class="dash" style="top:642px;height:546.500px"><div class="side"><div class="act" style="top:21.2px"></div><div class="sep" style="top:140.3px"></div><div class="sep" style="top:199.7px"></div><div class="sep" style="top:288.6px"></div><div class="sep" style="top:377.0px"></div><div class="sep" style="top:466.0px"></div><svg viewBox="0 0 16 16" style="top:-0.5px;color:#e6e7ec"><rect x="1.5" y="1.5" width="5.6" height="7.4" fill="currentColor"/><rect x="8.6" y="1.5" width="5.9" height="4.2" fill="currentColor"/><rect x="1.5" y="10.4" width="5.6" height="4.1" fill="currentColor"/><rect x="8.6" y="7.2" width="5.9" height="7.3" fill="currentColor"/></svg><svg viewBox="0 0 16 16" style="top:29.0px;color:#ffffff"><path d="M1.800 6V4.200c0-1 .6-1.600 1.600-1.600h9.200c1 0 1.600.6 1.600 1.600V6M1.800 10v1.800c0 1 .6 1.600 1.600 1.600h9.200c1 0 1.600-.6 1.600-1.600V10" fill="none" stroke="currentColor" stroke-width="1.700"/><path d="M0.600 8.200h4.600l1.400-2.400 2.200 4.400 1.500-2h5.100" fill="none" stroke="currentColor" stroke-width="1.500"/></svg><svg viewBox="0 0 16 16" style="top:59.6px;color:#e6e7ec"><path d="M1.400 14.600V7h3.400V4.400L7.600 1.400l2.800 3v2.600h4.200v7.600z" fill="currentColor"/><path d="M3 9h1.600M3 11.600h1.600M6.800 6.400h1.600M6.800 9h1.600M6.800 11.600h1.600M11 9h1.800M11 11.600h1.800" stroke="#1e222e" stroke-width="1.300"/></svg><svg viewBox="0 0 16 16" style="top:89.2px;color:#e6e7ec"><rect x="1.200" y="8.600" width="13.600" height="5.600" rx="1.200" fill="currentColor"/><rect x="9.800" y="4.600" width="1.600" height="5" fill="currentColor"/><path d="M7.600 3.200c1.800-1.700 4.200-1.700 6 0" fill="none" stroke="currentColor" stroke-width="1.400"/><path d="M3.200 11.400h1.300M5.800 11.400h1.300M8.400 11.400h1.300" stroke="#1e222e" stroke-width="1.300"/></svg><svg viewBox="0 0 16 16" style="top:117.9px;color:#e6e7ec"><rect x="5.800" y="6.400" width="4.600" height="9" rx="1" fill="none" stroke="currentColor" stroke-width="1.500"/><path d="M8.100 8.600v2.400" stroke="currentColor" stroke-width="1.300"/><path d="M4.400 5a5.200 5.200 0 0 1 7.400-.6M2.600 3a8 8 0 0 1 10.800-.8" fill="none" stroke="currentColor" stroke-width="1.500"/></svg><svg viewBox="0 0 16 16" style="top:148.8px;color:#e6e7ec"><path d="M3.200 1.400h9.600v3.400L9.800 8l3 3.200v3.400H3.200v-3.400l3-3.200-3-3.200z" fill="currentColor"/><path d="M5.200 13v-1.200L8 9.200l2.800 2.600V13z" fill="#1e222e"/></svg><svg viewBox="0 0 16 16" style="top:176.9px;color:#e6e7ec"><path d="M3 1.8l5 6.4 5-6.4M8 8.2v6.4M3.6 8.6h8.8M3.6 11.4h8.8" fill="none" stroke="currentColor" stroke-width="1.7"/></svg><svg viewBox="0 0 16 16" style="top:208.2px;color:#e6e7ec"><rect x="2" y="3" width="12" height="11.600" rx="1.400" fill="none" stroke="currentColor" stroke-width="1.700"/><rect x="2" y="3" width="12" height="4.600" fill="currentColor"/><path d="M4.800 1v3M11.200 1v3" stroke="currentColor" stroke-width="1.700"/><path d="M4.600 6h1.200M7.400 6h1.200M10.200 6h1.200" stroke="#1e222e" stroke-width="1.100"/></svg><svg viewBox="0 0 16 16" style="top:236.2px;color:#e6e7ec"><circle cx="8" cy="8" r="6.3" fill="none" stroke="currentColor" stroke-width="1.6"/><path d="M8 4.2V8.3l2.7 1.7" fill="none" stroke="currentColor" stroke-width="1.5"/></svg><svg viewBox="0 0 16 16" style="top:266.2px;color:#e6e7ec"><path d="M8 1.2c3.2 0 5.4 2.2 5.4 5 0 1.6-.8 2.8-1.8 3.8-.6.6-.8 1.2-.8 2.2v2.6H5.6v-2.2H4.2c-.8 0-1-.4-1-1V9.800L2 9.200l1.200-2.600c.2-3.200 2-5.400 4.800-5.400z" fill="currentColor"/><circle cx="8.600" cy="6.400" r="2.100" fill="#1e222e"/><circle cx="8.600" cy="6.400" r="0.900" fill="currentColor"/></svg><svg viewBox="0 0 16 16" style="top:296.8px;color:#e6e7ec"><rect x="1" y="2.600" width="14" height="10.800" rx="1" fill="none" stroke="currentColor" stroke-width="1.500"/><circle cx="5.800" cy="6.600" r="1.700" fill="currentColor"/><path d="M2.800 11.800c.2-2 1.400-2.800 3-2.800s2.800.8 3 2.800z" fill="currentColor"/><path d="M12.600 4.800c-1.600 1.600-1.600 4.400 0 6" fill="none" stroke="currentColor" stroke-width="1.300"/></svg><svg viewBox="0 0 16 16" style="top:326.2px;color:#e6e7ec"><rect x="2.400" y="3" width="11.200" height="11.600" rx="1" fill="none" stroke="currentColor" stroke-width="1.500"/><rect x="6" y="1" width="4" height="3.400" rx=".8" fill="currentColor"/><circle cx="8" cy="7.800" r="1.700" fill="currentColor"/><path d="M4.600 12.800c.2-2 1.600-2.800 3.400-2.800s3.200.8 3.400 2.800z" fill="currentColor"/></svg><svg viewBox="0 0 16 16" style="top:355.9px;color:#e6e7ec"><circle cx="8" cy="5" r="2.300" fill="currentColor"/><path d="M3.600 12.800c.2-3 2-4.400 4.400-4.400s4.200 1.400 4.400 4.400z" fill="currentColor"/><circle cx="3" cy="7" r="1.500" fill="currentColor"/><circle cx="13" cy="7" r="1.500" fill="currentColor"/><path d="M0 12.800c.1-2.200 1.200-3.400 3-3.400.2 0 .5 0 .8.100-.8.900-1.200 2-1.300 3.300zM16 12.800c-.1-2.200-1.200-3.400-3-3.400-.2 0-.5 0-.8.100.8.900 1.200 2 1.300 3.300z" fill="currentColor"/></svg><svg viewBox="0 0 16 16" style="top:385.8px;color:#e6e7ec"><circle cx="5.600" cy="4" r="2.800" fill="currentColor"/><path d="M0.800 14c.2-3.600 2-5.400 4.800-5.400.8 0 1.600.2 2.200.5-.8 1-1.200 2.200-1.200 3.400 0 .5.100 1 .2 1.500z" fill="currentColor"/><circle cx="11.600" cy="11.200" r="2.500" fill="none" stroke="currentColor" stroke-width="1.500"/><path d="M11.600 7.400v1.400M11.600 13.600V15M7.800 11.200h1.400M14 11.200h1.400M8.900 8.500l1 1M13.300 12.900l1 1M14.300 8.500l-1 1M9.900 12.900l-1 1" stroke="currentColor" stroke-width="1.200"/></svg><svg viewBox="0 0 16 16" style="top:415.5px;color:#e6e7ec"><path d="M11 12.600H2.600c-.8 0-1.200-.4-1.200-1.200V3.800c0-.8.400-1.200 1.200-1.200h10c.8 0 1.200.4 1.200 1.200V8" fill="none" stroke="currentColor" stroke-width="1.500"/><rect x="1.400" y="4.600" width="12.400" height="2.200" fill="currentColor"/><path d="M13.200 10v5M10.700 12.500h5" stroke="currentColor" stroke-width="1.500"/></svg><svg viewBox="0 0 16 16" style="top:444.2px;color:#e6e7ec"><rect x="1.800" y="1.800" width="12.400" height="12.400" rx=".8" fill="none" stroke="currentColor" stroke-width="1.500"/><path d="M4 5.200h1.600M7 5.200h5M4 8h1.600M7 8h5M4 10.800h1.600M7 10.800h5" stroke="currentColor" stroke-width="1.400"/></svg><svg viewBox="0 0 16 16" style="top:474.8px;color:#e6e7ec"><path d="M0.800 11.600l3.600-4.400 2.400 2.600L14.600 1.400" fill="none" stroke="currentColor" stroke-width="1.500"/><circle cx="10.800" cy="10.800" r="2.600" fill="none" stroke="currentColor" stroke-width="1.500"/><path d="M12.700 12.700l2.700 2.700" stroke="currentColor" stroke-width="1.700"/></svg><svg viewBox="0 0 16 16" style="top:503.7px;color:#e6e7ec"><path d="M1 4h5M1 8h4M1 12h6" stroke="currentColor" stroke-width="1.500"/><circle cx="10" cy="7" r="3.200" fill="none" stroke="currentColor" stroke-width="1.600"/><path d="M12.300 9.300l3.200 3.600" stroke="currentColor" stroke-width="1.800"/></svg></div><div class="t" style="left:45px;top:38px;font-size:14.600px;line-height:18px;color:#f4f5f8;font-weight:500">空调监控</div><div class="abs" style="left:34px;top:60px;width:1143px;height:33.500px;background:#2f344f"></div><div class="abs" style="left:45px;top:65.500px;width:100.500px;height:24px;border:1px solid #2563b8;background:#2a3560"></div><svg class="abs" style="left:55.500px;top:71.500px;width:12px;height:12px" viewBox="0 0 12 12"><circle cx="6" cy="6" r="5.600" fill="#3a8cf0"/><path d="M2.200 3.200c1.200-.4 2 .2 2.600 1 .5.800 1.500.600 1.800 1.500.3 1-.800 1.300-1 2.200-.1.800-.4 1.800-1.200 1.600-.800-.2-.500-1.400-1-2-.600-.700-1.700-.500-1.900-1.500-.2-.900.200-2.200.700-2.800zM7.400 1c1 .3 2.300 1.200 2.800 2.200-.800.200-1.300.900-2 .600-.800-.3-.300-1-.800-1.500-.300-.400-.300-.900 0-1.300z" fill="#233a6e"/></svg><div class="blur" style="left:70px;top:71.500px;width:30px;height:11px;background:#2b62b8;opacity:.7;filter:blur(2.200px)"></div><div class="t" style="left:99px;top:71.500px;font-size:8.600px;line-height:12px;color:#3a8cf0;font-weight:700">术学院</div><svg class="abs" style="left:124.500px;top:76px;width:7px;height:4px" viewBox="0 0 7 4"><path d="M0 0h6.400L3.200 3.600z" fill="#3a8cf0"/></svg><div class="mc" style="left:41.5px;top:113px;width:373.5px"><div class="bar" style="background:#27c546"></div><div class="sepl"></div><svg class="sig" viewBox="0 0 11 10"><rect x="0" y="6.600" width="1.800" height="3.400" fill="#27c546"/><rect x="4" y="3.200" width="1.900" height="6.800" fill="#27c546"/><rect x="8.200" y="0" width="1.900" height="10" fill="#27c546"/></svg><div class="tt" style="color:#27c546">F座1楼3#空调<i>(F-1-104)</i></div><div class="dots"><b style="left:0"></b><b style="left:5px"></b><b style="left:10px"></b></div><div class="r" style="left:15.3px;top:37.0px;width:95.3px"><span class="bu"></span><span class="lb">运行状态:</span><span class="v">开机</span></div><div class="r" style="left:141.3px;top:37.0px;width:94.1px"><span class="bu"></span><span class="lb">告警状态:</span><span class="v">正常</span></div><div class="r" style="left:266.3px;top:37.0px;width:96.1px"><span class="bu"></span><span class="lb">模式:</span><span class="v">自动</span></div><div class="r" style="left:15.3px;top:55.5px;width:95.3px"><span class="bu"></span><span class="lb">风速:</span><span class="v">自动</span></div><div class="r" style="left:141.3px;top:55.5px;width:94.1px"><span class="bu"></span><span class="lb">风向:</span><span class="v">上下</span></div><div class="r" style="left:266.3px;top:55.5px;width:96.1px"><span class="bu"></span><span class="lb">设定温度:</span><span class="v">25℃</span></div><div class="r" style="left:15.3px;top:75.0px;width:95.3px"><span class="bu"></span><span class="lb">温度:</span><span class="v">29℃</span></div><div class="r" style="left:141.3px;top:75.0px;width:94.1px"><span class="bu"></span><span class="lb">湿度:</span><span class="v">60%</span></div><div class="r" style="left:266.3px;top:75.0px;width:96.1px"><span class="bu"></span><span class="lb">辅助DI:</span><span class="v">断开</span></div><div class="r" style="left:15.3px;top:95.7px;width:95.3px"><span class="bu"></span><span class="lb">电压:</span><span class="v">0V</span></div><div class="r" style="left:15.3px;top:112.3px;width:95.3px"><span class="bu"></span><span class="lb">电流:</span><span class="v">0A</span></div><div class="r" style="left:15.3px;top:130.4px;width:95.3px"><span class="bu"></span><span class="lb">功率:</span><span class="v">0W</span></div><div class="r" style="left:15.3px;top:151.5px;width:95.3px"><span class="bu"></span><span class="lb">电流状态:</span><span class="v">正常</span></div><div class="r" style="left:141.3px;top:151.5px;width:94.1px"><span class="bu"></span><span class="lb">锁定状态:</span><span class="v">是</span></div><div class="r" style="left:15.3px;top:170.5px;width:95.3px"><span class="bu"></span><span class="lb">总电量:</span><span class="v"><span style="letter-spacing:.600px;margin-right:-.600px">0kw·h</span></span></div><div class="r" style="left:141.3px;top:170.5px;width:94.1px"><span class="bu"></span><span class="lb">余额:</span><span class="v">500元</span></div></div><div class="mc" style="left:420px;top:114px;width:374.5px"><div class="bar" style="background:#27c546"></div><div class="sepl"></div><svg class="sig" viewBox="0 0 11 10"><rect x="0" y="6.600" width="1.800" height="3.400" fill="#27c546"/><rect x="4" y="3.200" width="1.900" height="6.800" fill="#27c546"/><rect x="8.200" y="0" width="1.900" height="10" fill="#27c546"/></svg><div class="tt" style="color:#27c546">F座1楼3#空调<i>(F-1-104)</i></div><div class="dots"><b style="left:0"></b><b style="left:5px"></b><b style="left:10px"></b></div><div class="r" style="left:15.3px;top:37.0px;width:95.3px"><span class="bu"></span><span class="lb">运行状态:</span><span class="v">开机</span></div><div class="r" style="left:141.3px;top:37.0px;width:94.1px"><span class="bu"></span><span class="lb">告警状态:</span><span class="v">正常</span></div><div class="r" style="left:266.3px;top:37.0px;width:96.1px"><span class="bu"></span><span class="lb">模式:</span><span class="v">自动</span></div><div class="r" style="left:15.3px;top:55.5px;width:95.3px"><span class="bu"></span><span class="lb">风速:</span><span class="v">自动</span></div><div class="r" style="left:141.3px;top:55.5px;width:94.1px"><span class="bu"></span><span class="lb">风向:</span><span class="v">上下</span></div><div class="r" style="left:266.3px;top:55.5px;width:96.1px"><span class="bu"></span><span class="lb">设定温度:</span><span class="v">25℃</span></div><div class="r" style="left:15.3px;top:75.0px;width:95.3px"><span class="bu"></span><span class="lb">温度:</span><span class="v">29℃</span></div><div class="r" style="left:141.3px;top:75.0px;width:94.1px"><span class="bu"></span><span class="lb">湿度:</span><span class="v">60%</span></div><div class="r" style="left:266.3px;top:75.0px;width:96.1px"><span class="bu"></span><span class="lb">辅助DI:</span><span class="v">断开</span></div><div class="r" style="left:15.3px;top:95.7px;width:95.3px"><span class="bu"></span><span class="lb">电压:</span><span class="v">0V</span></div><div class="r" style="left:15.3px;top:112.3px;width:95.3px"><span class="bu"></span><span class="lb">电流:</span><span class="v">0A</span></div><div class="r" style="left:15.3px;top:130.4px;width:95.3px"><span class="bu"></span><span class="lb">功率:</span><span class="v">0W</span></div><div class="r" style="left:15.3px;top:151.5px;width:95.3px"><span class="bu"></span><span class="lb">电流状态:</span><span class="v">正常</span></div><div class="r" style="left:141.3px;top:151.5px;width:94.1px"><span class="bu"></span><span class="lb">锁定状态:</span><span class="v">是</span></div><div class="r" style="left:15.3px;top:170.5px;width:95.3px"><span class="bu"></span><span class="lb">总电量:</span><span class="v"><span style="letter-spacing:.600px;margin-right:-.600px">0kw·h</span></span></div><div class="r" style="left:141.3px;top:170.5px;width:94.1px"><span class="bu"></span><span class="lb">余额:</span><span class="v">500元</span></div></div><div class="mc" style="left:797px;top:113px;width:373px"><div class="bar" style="background:#27c546"></div><div class="sepl"></div><svg class="sig" viewBox="0 0 11 10"><rect x="0" y="6.600" width="1.800" height="3.400" fill="#27c546"/><rect x="4" y="3.200" width="1.900" height="6.800" fill="#27c546"/><rect x="8.200" y="0" width="1.900" height="10" fill="#27c546"/></svg><div class="tt" style="color:#27c546">F座1楼3#空调<i>(F-1-104)</i></div><div class="dots"><b style="left:0"></b><b style="left:5px"></b><b style="left:10px"></b></div><div class="r" style="left:15.3px;top:37.0px;width:95.3px"><span class="bu"></span><span class="lb">运行状态:</span><span class="v">开机</span></div><div class="r" style="left:141.3px;top:37.0px;width:94.1px"><span class="bu"></span><span class="lb">告警状态:</span><span class="v">正常</span></div><div class="r" style="left:266.3px;top:37.0px;width:96.1px"><span class="bu"></span><span class="lb">模式:</span><span class="v">自动</span></div><div class="r" style="left:15.3px;top:55.5px;width:95.3px"><span class="bu"></span><span class="lb">风速:</span><span class="v">自动</span></div><div class="r" style="left:141.3px;top:55.5px;width:94.1px"><span class="bu"></span><span class="lb">风向:</span><span class="v">上下</span></div><div class="r" style="left:266.3px;top:55.5px;width:96.1px"><span class="bu"></span><span class="lb">设定温度:</span><span class="v">25℃</span></div><div class="r" style="left:15.3px;top:75.0px;width:95.3px"><span class="bu"></span><span class="lb">温度:</span><span class="v">29℃</span></div><div class="r" style="left:141.3px;top:75.0px;width:94.1px"><span class="bu"></span><span class="lb">湿度:</span><span class="v">60%</span></div><div class="r" style="left:266.3px;top:75.0px;width:96.1px"><span class="bu"></span><span class="lb">辅助DI:</span><span class="v">断开</span></div><div class="r" style="left:15.3px;top:95.7px;width:95.3px"><span class="bu"></span><span class="lb">电压:</span><span class="v">0V</span></div><div class="r" style="left:15.3px;top:112.3px;width:95.3px"><span class="bu"></span><span class="lb">电流:</span><span class="v">0A</span></div><div class="r" style="left:15.3px;top:130.4px;width:95.3px"><span class="bu"></span><span class="lb">功率:</span><span class="v">0W</span></div><div class="r" style="left:15.3px;top:151.5px;width:95.3px"><span class="bu"></span><span class="lb">电流状态:</span><span class="v">正常</span></div><div class="r" style="left:141.3px;top:151.5px;width:94.1px"><span class="bu"></span><span class="lb">锁定状态:</span><span class="v">是</span></div><div class="r" style="left:15.3px;top:170.5px;width:95.3px"><span class="bu"></span><span class="lb">总电量:</span><span class="v"><span style="letter-spacing:.600px;margin-right:-.600px">0kw·h</span></span></div><div class="r" style="left:141.3px;top:170.5px;width:94.1px"><span class="bu"></span><span class="lb">余额:</span><span class="v">500元</span></div></div><div class="mc" style="left:41.5px;top:317px;width:373.5px"><div class="bar" style="background:#27c546"></div><div class="sepl"></div><svg class="sig" viewBox="0 0 11 10"><rect x="0" y="6.600" width="1.800" height="3.400" fill="#27c546"/><rect x="4" y="3.200" width="1.900" height="6.800" fill="#27c546"/><rect x="8.200" y="0" width="1.900" height="10" fill="#27c546"/></svg><div class="tt" style="color:#27c546">F座1楼3#空调<i>(F-1-104)</i></div><div class="dots"><b style="left:0"></b><b style="left:5px"></b><b style="left:10px"></b></div><div class="r" style="left:15.3px;top:37.0px;width:95.3px"><span class="bu"></span><span class="lb">运行状态:</span><span class="v">开机</span></div><div class="r" style="left:141.3px;top:37.0px;width:94.1px"><span class="bu"></span><span class="lb">告警状态:</span><span class="v">正常</span></div><div class="r" style="left:266.3px;top:37.0px;width:96.1px"><span class="bu"></span><span class="lb">模式:</span><span class="v">自动</span></div><div class="r" style="left:15.3px;top:55.5px;width:95.3px"><span class="bu"></span><span class="lb">风速:</span><span class="v">自动</span></div><div class="r" style="left:141.3px;top:55.5px;width:94.1px"><span class="bu"></span><span class="lb">风向:</span><span class="v">上下</span></div><div class="r" style="left:266.3px;top:55.5px;width:96.1px"><span class="bu"></span><span class="lb">设定温度:</span><span class="v">25℃</span></div><div class="r" style="left:15.3px;top:75.0px;width:95.3px"><span class="bu"></span><span class="lb">温度:</span><span class="v">29℃</span></div><div class="r" style="left:141.3px;top:75.0px;width:94.1px"><span class="bu"></span><span class="lb">湿度:</span><span class="v">60%</span></div><div class="r" style="left:266.3px;top:75.0px;width:96.1px"><span class="bu"></span><span class="lb">辅助DI:</span><span class="v">断开</span></div><div class="r" style="left:15.3px;top:95.7px;width:95.3px"><span class="bu"></span><span class="lb">电压:</span><span class="v">0V</span></div><div class="r" style="left:15.3px;top:112.3px;width:95.3px"><span class="bu"></span><span class="lb">电流:</span><span class="v">0A</span></div><div class="r" style="left:15.3px;top:130.4px;width:95.3px"><span class="bu"></span><span class="lb">功率:</span><span class="v">0W</span></div><div class="r" style="left:15.3px;top:151.5px;width:95.3px"><span class="bu"></span><span class="lb">电流状态:</span><span class="v">正常</span></div><div class="r" style="left:141.3px;top:151.5px;width:94.1px"><span class="bu"></span><span class="lb">锁定状态:</span><span class="v">是</span></div><div class="r" style="left:15.3px;top:170.5px;width:95.3px"><span class="bu"></span><span class="lb">总电量:</span><span class="v"><span style="letter-spacing:.600px;margin-right:-.600px">0kw·h</span></span></div><div class="r" style="left:141.3px;top:170.5px;width:94.1px"><span class="bu"></span><span class="lb">余额:</span><span class="v">500元</span></div></div><div class="mc" style="left:420px;top:318px;width:374.5px"><div class="bar" style="background:#ee4546"></div><div class="sepl"></div><svg class="sig" viewBox="0 0 11 10"><rect x="0" y="6.600" width="1.800" height="3.400" fill="#ee4546"/><rect x="4" y="3.200" width="1.900" height="6.800" fill="#ee4546"/><rect x="8.200" y="0" width="1.900" height="10" fill="#ee4546"/></svg><div class="tt" style="color:#ee4546">F座1楼3#空调<i>(F-1-104)</i></div><div class="dots"><b style="left:0"></b><b style="left:5px"></b><b style="left:10px"></b></div><div class="r" style="left:15.3px;top:37.0px;width:95.3px"><span class="bu"></span><span class="lb">运行状态:</span><span class="v red">关机</span></div><div class="r" style="left:141.3px;top:37.0px;width:94.1px"><span class="bu"></span><span class="lb">告警状态:</span><span class="v">正常</span></div><div class="r" style="left:266.3px;top:37.0px;width:96.1px"><span class="bu"></span><span class="lb">模式:</span><span class="v">自动</span></div><div class="r" style="left:15.3px;top:55.5px;width:95.3px"><span class="bu"></span><span class="lb">风速:</span><span class="v">自动</span></div><div class="r" style="left:141.3px;top:55.5px;width:94.1px"><span class="bu"></span><span class="lb">风向:</span><span class="v">上下</span></div><div class="r" style="left:266.3px;top:55.5px;width:96.1px"><span class="bu"></span><span class="lb">设定温度:</span><span class="v">25℃</span></div><div class="r" style="left:15.3px;top:75.0px;width:95.3px"><span class="bu"></span><span class="lb">温度:</span><span class="v">29℃</span></div><div class="r" style="left:141.3px;top:75.0px;width:94.1px"><span class="bu"></span><span class="lb">湿度:</span><span class="v">60%</span></div><div class="r" style="left:266.3px;top:75.0px;width:96.1px"><span class="bu"></span><span class="lb">辅助DI:</span><span class="v">断开</span></div><div class="r" style="left:15.3px;top:95.7px;width:95.3px"><span class="bu"></span><span class="lb">电压:</span><span class="v">0V</span></div><div class="r" style="left:15.3px;top:112.3px;width:95.3px"><span class="bu"></span><span class="lb">电流:</span><span class="v">0A</span></div><div class="r" style="left:15.3px;top:130.4px;width:95.3px"><span class="bu"></span><span class="lb">功率:</span><span class="v">0W</span></div><div class="r" style="left:15.3px;top:151.5px;width:95.3px"><span class="bu"></span><span class="lb">电流状态:</span><span class="v red">断开</span></div><div class="r" style="left:141.3px;top:151.5px;width:94.1px"><span class="bu"></span><span class="lb">锁定状态:</span><span class="v">是</span></div><div class="r" style="left:15.3px;top:170.5px;width:95.3px"><span class="bu"></span><span class="lb">总电量:</span><span class="v"><span style="letter-spacing:.600px;margin-right:-.600px">0kw·h</span></span></div><div class="r" style="left:141.3px;top:170.5px;width:94.1px"><span class="bu"></span><span class="lb">余额:</span><span class="v">500元</span></div></div><div class="mc" style="left:797px;top:317px;width:373px"><div class="bar" style="background:#27c546"></div><div class="sepl"></div><svg class="sig" viewBox="0 0 11 10"><rect x="0" y="6.600" width="1.800" height="3.400" fill="#27c546"/><rect x="4" y="3.200" width="1.900" height="6.800" fill="#27c546"/><rect x="8.200" y="0" width="1.900" height="10" fill="#27c546"/></svg><div class="tt" style="color:#27c546">F座1楼3#空调<i>(F-1-104)</i></div><div class="dots"><b style="left:0"></b><b style="left:5px"></b><b style="left:10px"></b></div><div class="r" style="left:15.3px;top:37.0px;width:95.3px"><span class="bu"></span><span class="lb">运行状态:</span><span class="v">开机</span></div><div class="r" style="left:141.3px;top:37.0px;width:94.1px"><span class="bu"></span><span class="lb">告警状态:</span><span class="v">正常</span></div><div class="r" style="left:266.3px;top:37.0px;width:96.1px"><span class="bu"></span><span class="lb">模式:</span><span class="v">自动</span></div><div class="r" style="left:15.3px;top:55.5px;width:95.3px"><span class="bu"></span><span class="lb">风速:</span><span class="v">自动</span></div><div class="r" style="left:141.3px;top:55.5px;width:94.1px"><span class="bu"></span><span class="lb">风向:</span><span class="v">上下</span></div><div class="r" style="left:266.3px;top:55.5px;width:96.1px"><span class="bu"></span><span class="lb">设定温度:</span><span class="v">25℃</span></div><div class="r" style="left:15.3px;top:75.0px;width:95.3px"><span class="bu"></span><span class="lb">温度:</span><span class="v">29℃</span></div><div class="r" style="left:141.3px;top:75.0px;width:94.1px"><span class="bu"></span><span class="lb">湿度:</span><span class="v">60%</span></div><div class="r" style="left:266.3px;top:75.0px;width:96.1px"><span class="bu"></span><span class="lb">辅助DI:</span><span class="v">断开</span></div><div class="r" style="left:15.3px;top:95.7px;width:95.3px"><span class="bu"></span><span class="lb">电压:</span><span class="v">0V</span></div><div class="r" style="left:15.3px;top:112.3px;width:95.3px"><span class="bu"></span><span class="lb">电流:</span><span class="v">0A</span></div><div class="r" style="left:15.3px;top:130.4px;width:95.3px"><span class="bu"></span><span class="lb">功率:</span><span class="v">0W</span></div><div class="r" style="left:15.3px;top:151.5px;width:95.3px"><span class="bu"></span><span class="lb">电流状态:</span><span class="v">正常</span></div><div class="r" style="left:141.3px;top:151.5px;width:94.1px"><span class="bu"></span><span class="lb">锁定状态:</span><span class="v">是</span></div><div class="r" style="left:15.3px;top:170.5px;width:95.3px"><span class="bu"></span><span class="lb">总电量:</span><span class="v"><span style="letter-spacing:.600px;margin-right:-.600px">0kw·h</span></span></div><div class="r" style="left:141.3px;top:170.5px;width:94.1px"><span class="bu"></span><span class="lb">余额:</span><span class="v">500元</span></div></div><div class="hdr"><svg class="abs" style="left:0;top:0;width:40px;height:31px" viewBox="0 0 40 31">
<defs><linearGradient id="lgA" x1="0" y1="0" x2="1" y2="0"><stop offset="0" stop-color="#1f8fd0"/><stop offset=".55" stop-color="#2cb6ec"/><stop offset="1" stop-color="#2e86d8"/></linearGradient></defs>
<path d="M12.800 9.900C15.500 5 22.500 1.400 27.800 3.600C31.400 5.200 32.600 8.800 31.900 11.800" fill="none" stroke="url(#lgA)" stroke-width="1.500" stroke-linecap="round"/>
<path d="M10.400 23.600C13 28.200 19.200 29.600 24.400 25.700C26.600 24 28 22.600 28.700 20.900" fill="none" stroke="#2a78d0" stroke-width="1.500" stroke-linecap="round"/>
<g transform="translate(8.600 19.900) skewX(-22)"><text x="0" y="0" font-family="Liberation Sans,sans-serif" font-size="9.600" font-weight="700" font-style="italic" fill="#1fa6e2" textLength="23.500" lengthAdjust="spacingAndGlyphs">ZHT</text></g>
<path d="M27 13.600h7.600" stroke="#1fa6e2" stroke-width="1.200"/>
</svg><div class="ttl">纵横通空调管理系统</div><svg class="abs" style="left:1126px;top:6px;width:36px;height:20px" viewBox="0 0 36 20">
<circle cx="10.100" cy="9.800" r="7.300" fill="none" stroke="#fff" stroke-width="1.600"/>
<circle cx="10.100" cy="7.800" r="2.300" fill="none" stroke="#fff" stroke-width="1.500"/>
<path d="M5.600 14.300c1-1.700 2.600-2.300 4.500-2.300s3.500.6 4.500 2.300" fill="none" stroke="#fff" stroke-width="1.600"/>
<path d="M25.200 8.200h8.400l-4.200 4.400z" fill="#fff"/></svg></div></div><div class="cap" style="top:1192px;line-height:27px;left:516.500px;width:auto">空调状态监测-页面</div></body></html>
